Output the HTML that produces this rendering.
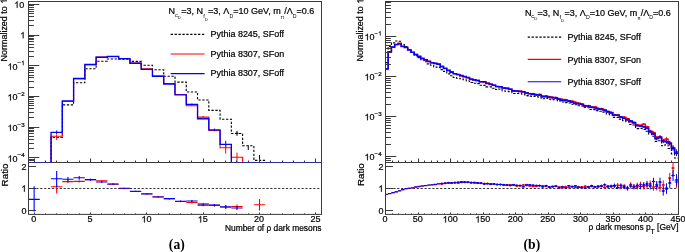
<!DOCTYPE html>
<html><head><meta charset="utf-8"><style>
html,body{margin:0;padding:0;background:#fff;width:685px;height:252px;overflow:hidden}
svg{display:block;will-change:transform}
text{font-family:"Liberation Sans",sans-serif;stroke:#000;stroke-width:0.22px}
.serif{font-family:"Liberation Serif",serif;stroke:none}
.g1{fill:#000;stroke:#000}
.ns{stroke:none}
</style></head><body>
<svg width="685" height="252" viewBox="0 0 685 252" font-family="Liberation Sans, sans-serif" fill="#000"><defs><clipPath id="cl"><rect x="28.5" y="1.5" width="293" height="160.9"/></clipPath><clipPath id="cr"><rect x="385.5" y="1.5" width="293" height="160.9"/></clipPath><clipPath id="clr"><rect x="28.5" y="162.5" width="293" height="51.9"/></clipPath><clipPath id="crr"><rect x="385.5" y="162.5" width="293" height="51.9"/></clipPath></defs>
<g clip-path="url(#cl)" fill="none">
<path d="M28.50,164.00 L39.77,164.00 L39.77,164.00 L51.04,164.00 L51.04,137.50 L62.31,137.50 L62.31,104.90 L73.58,104.90 L73.58,82.80 L84.85,82.80 L84.85,68.80 L96.12,68.80 L96.12,61.20 L107.38,61.20 L107.38,59.00 L118.65,59.00 L118.65,59.20 L129.92,59.20 L129.92,61.40 L141.19,61.40 L141.19,65.20 L152.46,65.20 L152.46,69.80 L163.73,69.80 L163.73,76.30 L175.00,76.30 L175.00,82.10 L186.27,82.10 L186.27,92.00 L197.54,92.00 L197.54,100.00 L208.81,100.00 L208.81,110.40 L220.08,110.40 L220.08,119.20 L231.35,119.20 L231.35,133.50 L242.62,133.50 L242.62,145.70 L253.88,145.70 L253.88,160.40 L265.15,160.40 L265.15,164.00 L276.42,164.00 L276.42,164.00 L287.69,164.00 L287.69,164.00 L298.96,164.00 L298.96,164.00 L310.23,164.00 L310.23,164.00 L321.50,164.00" stroke="#000" stroke-width="1.1" stroke-dasharray="2.3,1.6"/>
<path d="M28.50,164.00 L39.77,164.00 L39.77,164.00 L51.04,164.00 L51.04,136.30 L62.31,136.30 L62.31,101.50 L73.58,101.50 L73.58,79.00 L84.85,79.00 L84.85,64.60 L96.12,64.60 L96.12,57.00 L107.38,57.00 L107.38,56.60 L118.65,56.60 L118.65,58.60 L129.92,58.60 L129.92,63.00 L141.19,63.00 L141.19,68.80 L152.46,68.80 L152.46,76.00 L163.73,76.00 L163.73,83.50 L175.00,83.50 L175.00,94.50 L186.27,94.50 L186.27,105.80 L197.54,105.80 L197.54,117.10 L208.81,117.10 L208.81,130.50 L220.08,130.50 L220.08,147.70 L231.35,147.70 L231.35,157.30 L242.62,157.30 L242.62,164.00 L253.88,164.00 L253.88,164.00 L265.15,164.00 L265.15,164.00 L276.42,164.00 L276.42,164.00 L287.69,164.00 L287.69,164.00 L298.96,164.00 L298.96,164.00 L310.23,164.00 L310.23,164.00 L321.50,164.00" stroke="#ff0000" stroke-width="1.1"/>
<path d="M28.50,164.00 L39.77,164.00 L39.77,164.00 L51.04,164.00 L51.04,132.30 L62.31,132.30 L62.31,100.90 L73.58,100.90 L73.58,78.30 L84.85,78.30 L84.85,64.50 L96.12,64.50 L96.12,57.20 L107.38,57.20 L107.38,56.40 L118.65,56.40 L118.65,58.60 L129.92,58.60 L129.92,63.20 L141.19,63.20 L141.19,69.40 L152.46,69.40 L152.46,76.20 L163.73,76.20 L163.73,84.00 L175.00,84.00 L175.00,94.80 L186.27,94.80 L186.27,104.40 L197.54,104.40 L197.54,118.75 L208.81,118.75 L208.81,129.90 L220.08,129.90 L220.08,144.40 L231.35,144.40 L231.35,164.00 L242.62,164.00 L242.62,164.00 L253.88,164.00 L253.88,164.00 L265.15,164.00 L265.15,164.00 L276.42,164.00 L276.42,164.00 L287.69,164.00 L287.69,164.00 L298.96,164.00 L298.96,164.00 L310.23,164.00 L310.23,164.00 L321.50,164.00" stroke="#0000ff" stroke-width="1.35"/>
<line x1="56.67" y1="130.40" x2="56.67" y2="134.20" stroke="#0000ff" stroke-width="1" />
<line x1="56.67" y1="134.50" x2="56.67" y2="140.00" stroke="#ff0000" stroke-width="1" />
<line x1="225.71" y1="140.80" x2="225.71" y2="147.70" stroke="#0000ff" stroke-width="1" />
<line x1="225.71" y1="144.80" x2="225.71" y2="153.70" stroke="#ff0000" stroke-width="1" />
<line x1="236.98" y1="152.70" x2="236.98" y2="162.00" stroke="#ff0000" stroke-width="1" />
<line x1="236.98" y1="130.80" x2="236.98" y2="135.80" stroke="#000" stroke-width="1" />
<line x1="248.25" y1="145.50" x2="248.25" y2="150.00" stroke="#000" stroke-width="1" />
<line x1="259.52" y1="155.00" x2="259.52" y2="162.00" stroke="#000" stroke-width="1" />
<line x1="214.44" y1="128.50" x2="214.44" y2="131.30" stroke="#0000ff" stroke-width="1" />
<line x1="203.17" y1="116.00" x2="203.17" y2="119.50" stroke="#ff0000" stroke-width="1" />
<line x1="191.90" y1="103.50" x2="191.90" y2="105.50" stroke="#0000ff" stroke-width="1" />
<line x1="235.38" y1="133.30" x2="238.58" y2="133.30" stroke="#000" stroke-width="1" />
</g>
<rect x="28.5" y="1.5" width="293.0" height="161.0" fill="none" stroke="#3a3a3a" stroke-width="1"/>
<line x1="28.50" y1="162.50" x2="33.90" y2="162.50" stroke="#3a3a3a" stroke-width="1.0" />
<line x1="28.50" y1="160.50" x2="33.90" y2="160.50" stroke="#3a3a3a" stroke-width="1.0" />
<line x1="28.50" y1="159.50" x2="33.90" y2="159.50" stroke="#3a3a3a" stroke-width="1.0" />
<line x1="28.50" y1="157.50" x2="39.30" y2="157.50" stroke="#3a3a3a" stroke-width="1.0" />
<line x1="28.50" y1="148.50" x2="33.90" y2="148.50" stroke="#3a3a3a" stroke-width="1.0" />
<line x1="28.50" y1="143.50" x2="33.90" y2="143.50" stroke="#3a3a3a" stroke-width="1.0" />
<line x1="28.50" y1="139.50" x2="33.90" y2="139.50" stroke="#3a3a3a" stroke-width="1.0" />
<line x1="28.50" y1="136.50" x2="33.90" y2="136.50" stroke="#3a3a3a" stroke-width="1.0" />
<line x1="28.50" y1="133.50" x2="33.90" y2="133.50" stroke="#3a3a3a" stroke-width="1.0" />
<line x1="28.50" y1="131.50" x2="33.90" y2="131.50" stroke="#3a3a3a" stroke-width="1.0" />
<line x1="28.50" y1="130.50" x2="33.90" y2="130.50" stroke="#3a3a3a" stroke-width="1.0" />
<line x1="28.50" y1="128.50" x2="33.90" y2="128.50" stroke="#3a3a3a" stroke-width="1.0" />
<line x1="28.50" y1="127.50" x2="39.30" y2="127.50" stroke="#3a3a3a" stroke-width="1.0" />
<line x1="28.50" y1="117.50" x2="33.90" y2="117.50" stroke="#3a3a3a" stroke-width="1.0" />
<line x1="28.50" y1="112.50" x2="33.90" y2="112.50" stroke="#3a3a3a" stroke-width="1.0" />
<line x1="28.50" y1="108.50" x2="33.90" y2="108.50" stroke="#3a3a3a" stroke-width="1.0" />
<line x1="28.50" y1="105.50" x2="33.90" y2="105.50" stroke="#3a3a3a" stroke-width="1.0" />
<line x1="28.50" y1="103.50" x2="33.90" y2="103.50" stroke="#3a3a3a" stroke-width="1.0" />
<line x1="28.50" y1="101.50" x2="33.90" y2="101.50" stroke="#3a3a3a" stroke-width="1.0" />
<line x1="28.50" y1="99.50" x2="33.90" y2="99.50" stroke="#3a3a3a" stroke-width="1.0" />
<line x1="28.50" y1="97.50" x2="33.90" y2="97.50" stroke="#3a3a3a" stroke-width="1.0" />
<line x1="28.50" y1="96.50" x2="39.30" y2="96.50" stroke="#3a3a3a" stroke-width="1.0" />
<line x1="28.50" y1="87.50" x2="33.90" y2="87.50" stroke="#3a3a3a" stroke-width="1.0" />
<line x1="28.50" y1="81.50" x2="33.90" y2="81.50" stroke="#3a3a3a" stroke-width="1.0" />
<line x1="28.50" y1="77.50" x2="33.90" y2="77.50" stroke="#3a3a3a" stroke-width="1.0" />
<line x1="28.50" y1="75.50" x2="33.90" y2="75.50" stroke="#3a3a3a" stroke-width="1.0" />
<line x1="28.50" y1="72.50" x2="33.90" y2="72.50" stroke="#3a3a3a" stroke-width="1.0" />
<line x1="28.50" y1="70.50" x2="33.90" y2="70.50" stroke="#3a3a3a" stroke-width="1.0" />
<line x1="28.50" y1="68.50" x2="33.90" y2="68.50" stroke="#3a3a3a" stroke-width="1.0" />
<line x1="28.50" y1="67.50" x2="33.90" y2="67.50" stroke="#3a3a3a" stroke-width="1.0" />
<line x1="28.50" y1="65.50" x2="39.30" y2="65.50" stroke="#3a3a3a" stroke-width="1.0" />
<line x1="28.50" y1="56.50" x2="33.90" y2="56.50" stroke="#3a3a3a" stroke-width="1.0" />
<line x1="28.50" y1="51.50" x2="33.90" y2="51.50" stroke="#3a3a3a" stroke-width="1.0" />
<line x1="28.50" y1="47.50" x2="33.90" y2="47.50" stroke="#3a3a3a" stroke-width="1.0" />
<line x1="28.50" y1="44.50" x2="33.90" y2="44.50" stroke="#3a3a3a" stroke-width="1.0" />
<line x1="28.50" y1="41.50" x2="33.90" y2="41.50" stroke="#3a3a3a" stroke-width="1.0" />
<line x1="28.50" y1="39.50" x2="33.90" y2="39.50" stroke="#3a3a3a" stroke-width="1.0" />
<line x1="28.50" y1="38.50" x2="33.90" y2="38.50" stroke="#3a3a3a" stroke-width="1.0" />
<line x1="28.50" y1="36.50" x2="33.90" y2="36.50" stroke="#3a3a3a" stroke-width="1.0" />
<line x1="28.50" y1="35.50" x2="39.30" y2="35.50" stroke="#3a3a3a" stroke-width="1.0" />
<line x1="28.50" y1="25.50" x2="33.90" y2="25.50" stroke="#3a3a3a" stroke-width="1.0" />
<line x1="28.50" y1="20.50" x2="33.90" y2="20.50" stroke="#3a3a3a" stroke-width="1.0" />
<line x1="28.50" y1="16.50" x2="33.90" y2="16.50" stroke="#3a3a3a" stroke-width="1.0" />
<line x1="28.50" y1="13.50" x2="33.90" y2="13.50" stroke="#3a3a3a" stroke-width="1.0" />
<line x1="28.50" y1="11.50" x2="33.90" y2="11.50" stroke="#3a3a3a" stroke-width="1.0" />
<line x1="28.50" y1="9.50" x2="33.90" y2="9.50" stroke="#3a3a3a" stroke-width="1.0" />
<line x1="28.50" y1="7.50" x2="33.90" y2="7.50" stroke="#3a3a3a" stroke-width="1.0" />
<line x1="28.50" y1="5.50" x2="33.90" y2="5.50" stroke="#3a3a3a" stroke-width="1.0" />
<line x1="28.50" y1="4.50" x2="39.30" y2="4.50" stroke="#3a3a3a" stroke-width="1.0" />
<line x1="34.50" y1="162.50" x2="34.50" y2="158.50" stroke="#3a3a3a" stroke-width="1.0" />
<line x1="45.50" y1="162.50" x2="45.50" y2="160.50" stroke="#3a3a3a" stroke-width="1.0" />
<line x1="56.50" y1="162.50" x2="56.50" y2="160.50" stroke="#3a3a3a" stroke-width="1.0" />
<line x1="67.50" y1="162.50" x2="67.50" y2="160.50" stroke="#3a3a3a" stroke-width="1.0" />
<line x1="79.50" y1="162.50" x2="79.50" y2="160.50" stroke="#3a3a3a" stroke-width="1.0" />
<line x1="90.50" y1="162.50" x2="90.50" y2="158.50" stroke="#3a3a3a" stroke-width="1.0" />
<line x1="101.50" y1="162.50" x2="101.50" y2="160.50" stroke="#3a3a3a" stroke-width="1.0" />
<line x1="113.50" y1="162.50" x2="113.50" y2="160.50" stroke="#3a3a3a" stroke-width="1.0" />
<line x1="124.50" y1="162.50" x2="124.50" y2="160.50" stroke="#3a3a3a" stroke-width="1.0" />
<line x1="135.50" y1="162.50" x2="135.50" y2="160.50" stroke="#3a3a3a" stroke-width="1.0" />
<line x1="146.50" y1="162.50" x2="146.50" y2="158.50" stroke="#3a3a3a" stroke-width="1.0" />
<line x1="158.50" y1="162.50" x2="158.50" y2="160.50" stroke="#3a3a3a" stroke-width="1.0" />
<line x1="169.50" y1="162.50" x2="169.50" y2="160.50" stroke="#3a3a3a" stroke-width="1.0" />
<line x1="180.50" y1="162.50" x2="180.50" y2="160.50" stroke="#3a3a3a" stroke-width="1.0" />
<line x1="191.50" y1="162.50" x2="191.50" y2="160.50" stroke="#3a3a3a" stroke-width="1.0" />
<line x1="203.50" y1="162.50" x2="203.50" y2="158.50" stroke="#3a3a3a" stroke-width="1.0" />
<line x1="214.50" y1="162.50" x2="214.50" y2="160.50" stroke="#3a3a3a" stroke-width="1.0" />
<line x1="225.50" y1="162.50" x2="225.50" y2="160.50" stroke="#3a3a3a" stroke-width="1.0" />
<line x1="236.50" y1="162.50" x2="236.50" y2="160.50" stroke="#3a3a3a" stroke-width="1.0" />
<line x1="248.50" y1="162.50" x2="248.50" y2="160.50" stroke="#3a3a3a" stroke-width="1.0" />
<line x1="259.50" y1="162.50" x2="259.50" y2="158.50" stroke="#3a3a3a" stroke-width="1.0" />
<line x1="270.50" y1="162.50" x2="270.50" y2="160.50" stroke="#3a3a3a" stroke-width="1.0" />
<line x1="282.50" y1="162.50" x2="282.50" y2="160.50" stroke="#3a3a3a" stroke-width="1.0" />
<line x1="293.50" y1="162.50" x2="293.50" y2="160.50" stroke="#3a3a3a" stroke-width="1.0" />
<line x1="304.50" y1="162.50" x2="304.50" y2="160.50" stroke="#3a3a3a" stroke-width="1.0" />
<line x1="315.50" y1="162.50" x2="315.50" y2="158.50" stroke="#3a3a3a" stroke-width="1.0" />
<path class="g1" d="M763 0L583 0L583 1147Q518 1085 412 1023Q307 961 223 930L223 1104Q374 1175 487 1276Q600 1377 647 1472L763 1472Z" transform="translate(14.19,7.80) scale(0.004395,-0.004395)" stroke-width="50.1"/>
<text x="19.19" y="7.80" font-size="9.0">0</text>
<path class="g1" d="M763 0L583 0L583 1147Q518 1085 412 1023Q307 961 223 930L223 1104Q374 1175 487 1276Q600 1377 647 1472L763 1472Z" transform="translate(20.19,38.35) scale(0.004395,-0.004395)" stroke-width="50.1"/>
<path class="g1" d="M763 0L583 0L583 1147Q518 1085 412 1023Q307 961 223 930L223 1104Q374 1175 487 1276Q600 1377 647 1472L763 1472Z" transform="translate(7.52,69.80) scale(0.004395,-0.004395)" stroke-width="50.1"/>
<text x="12.53" y="69.80" font-size="9.0">0</text>
<text x="17.53" y="65.20" font-size="6.2">&#8722;</text>
<path class="g1" d="M763 0L583 0L583 1147Q518 1085 412 1023Q307 961 223 930L223 1104Q374 1175 487 1276Q600 1377 647 1472L763 1472Z" transform="translate(21.15,65.20) scale(0.003027,-0.003027)" stroke-width="72.7"/>
<path class="g1" d="M763 0L583 0L583 1147Q518 1085 412 1023Q307 961 223 930L223 1104Q374 1175 487 1276Q600 1377 647 1472L763 1472Z" transform="translate(7.52,100.45) scale(0.004395,-0.004395)" stroke-width="50.1"/>
<text x="12.53" y="100.45" font-size="9.0">0</text>
<text x="17.53" y="95.85" font-size="6.2">&#8722;2</text>
<path class="g1" d="M763 0L583 0L583 1147Q518 1085 412 1023Q307 961 223 930L223 1104Q374 1175 487 1276Q600 1377 647 1472L763 1472Z" transform="translate(7.52,131.10) scale(0.004395,-0.004395)" stroke-width="50.1"/>
<text x="12.53" y="131.10" font-size="9.0">0</text>
<text x="17.53" y="126.50" font-size="6.2">&#8722;3</text>
<path class="g1" d="M763 0L583 0L583 1147Q518 1085 412 1023Q307 961 223 930L223 1104Q374 1175 487 1276Q600 1377 647 1472L763 1472Z" transform="translate(7.52,161.75) scale(0.004395,-0.004395)" stroke-width="50.1"/>
<text x="12.53" y="161.75" font-size="9.0">0</text>
<text x="17.53" y="157.15" font-size="6.2">&#8722;4</text>
<g transform="translate(6.9,-1.2) rotate(-90)">
<text x="-7.46" y="0" font-size="8.95" text-anchor="end">Normalized to</text>
<path class="g1" d="M763 0L583 0L583 1147Q518 1085 412 1023Q307 961 223 930L223 1104Q374 1175 487 1276Q600 1377 647 1472L763 1472Z" transform="translate(-4.98,0) scale(0.004370,-0.004370)" stroke-width="50.3"/>
</g>
<rect x="28.5" y="162.5" width="293.0" height="51.900000000000006" fill="none" stroke="#3a3a3a" stroke-width="1"/>
<line x1="29.00" y1="162.50" x2="51.04" y2="162.50" stroke="#2e2e8c" stroke-width="1.0" />
<line x1="231.35" y1="162.50" x2="321.00" y2="162.50" stroke="#2e2e8c" stroke-width="1.0" />
<line x1="28.50" y1="188.50" x2="321.50" y2="188.50" stroke="#333" stroke-width="1.0" stroke-dasharray="2.2,1.7"/>
<line x1="28.50" y1="210.50" x2="36.00" y2="210.50" stroke="#3a3a3a" stroke-width="1.0" />
<text x="21.39" y="213.60" font-size="9.0">0</text>
<line x1="28.50" y1="188.50" x2="36.00" y2="188.50" stroke="#3a3a3a" stroke-width="1.0" />
<path class="g1" d="M763 0L583 0L583 1147Q518 1085 412 1023Q307 961 223 930L223 1104Q374 1175 487 1276Q600 1377 647 1472L763 1472Z" transform="translate(21.39,191.70) scale(0.004395,-0.004395)" stroke-width="50.1"/>
<line x1="28.50" y1="166.50" x2="36.00" y2="166.50" stroke="#3a3a3a" stroke-width="1.0" />
<text x="21.39" y="169.80" font-size="9.0">2</text>
<line x1="34.50" y1="214.40" x2="34.50" y2="212.50" stroke="#3a3a3a" stroke-width="1.0" />
<line x1="45.50" y1="214.40" x2="45.50" y2="213.40" stroke="#3a3a3a" stroke-width="1.0" />
<line x1="56.50" y1="214.40" x2="56.50" y2="213.40" stroke="#3a3a3a" stroke-width="1.0" />
<line x1="67.50" y1="214.40" x2="67.50" y2="213.40" stroke="#3a3a3a" stroke-width="1.0" />
<line x1="79.50" y1="214.40" x2="79.50" y2="213.40" stroke="#3a3a3a" stroke-width="1.0" />
<line x1="90.50" y1="214.40" x2="90.50" y2="212.50" stroke="#3a3a3a" stroke-width="1.0" />
<line x1="101.50" y1="214.40" x2="101.50" y2="213.40" stroke="#3a3a3a" stroke-width="1.0" />
<line x1="113.50" y1="214.40" x2="113.50" y2="213.40" stroke="#3a3a3a" stroke-width="1.0" />
<line x1="124.50" y1="214.40" x2="124.50" y2="213.40" stroke="#3a3a3a" stroke-width="1.0" />
<line x1="135.50" y1="214.40" x2="135.50" y2="213.40" stroke="#3a3a3a" stroke-width="1.0" />
<line x1="146.50" y1="214.40" x2="146.50" y2="212.50" stroke="#3a3a3a" stroke-width="1.0" />
<line x1="158.50" y1="214.40" x2="158.50" y2="213.40" stroke="#3a3a3a" stroke-width="1.0" />
<line x1="169.50" y1="214.40" x2="169.50" y2="213.40" stroke="#3a3a3a" stroke-width="1.0" />
<line x1="180.50" y1="214.40" x2="180.50" y2="213.40" stroke="#3a3a3a" stroke-width="1.0" />
<line x1="191.50" y1="214.40" x2="191.50" y2="213.40" stroke="#3a3a3a" stroke-width="1.0" />
<line x1="203.50" y1="214.40" x2="203.50" y2="212.50" stroke="#3a3a3a" stroke-width="1.0" />
<line x1="214.50" y1="214.40" x2="214.50" y2="213.40" stroke="#3a3a3a" stroke-width="1.0" />
<line x1="225.50" y1="214.40" x2="225.50" y2="213.40" stroke="#3a3a3a" stroke-width="1.0" />
<line x1="236.50" y1="214.40" x2="236.50" y2="213.40" stroke="#3a3a3a" stroke-width="1.0" />
<line x1="248.50" y1="214.40" x2="248.50" y2="213.40" stroke="#3a3a3a" stroke-width="1.0" />
<line x1="259.50" y1="214.40" x2="259.50" y2="212.50" stroke="#3a3a3a" stroke-width="1.0" />
<line x1="270.50" y1="214.40" x2="270.50" y2="213.40" stroke="#3a3a3a" stroke-width="1.0" />
<line x1="282.50" y1="214.40" x2="282.50" y2="213.40" stroke="#3a3a3a" stroke-width="1.0" />
<line x1="293.50" y1="214.40" x2="293.50" y2="213.40" stroke="#3a3a3a" stroke-width="1.0" />
<line x1="304.50" y1="214.40" x2="304.50" y2="213.40" stroke="#3a3a3a" stroke-width="1.0" />
<line x1="315.50" y1="214.40" x2="315.50" y2="212.50" stroke="#3a3a3a" stroke-width="1.0" />
<text x="31.23" y="222.40" font-size="9.0">0</text>
<text x="87.58" y="222.40" font-size="9.0">5</text>
<path class="g1" d="M763 0L583 0L583 1147Q518 1085 412 1023Q307 961 223 930L223 1104Q374 1175 487 1276Q600 1377 647 1472L763 1472Z" transform="translate(141.42,222.40) scale(0.004395,-0.004395)" stroke-width="50.1"/>
<text x="146.43" y="222.40" font-size="9.0">0</text>
<path class="g1" d="M763 0L583 0L583 1147Q518 1085 412 1023Q307 961 223 930L223 1104Q374 1175 487 1276Q600 1377 647 1472L763 1472Z" transform="translate(197.77,222.40) scale(0.004395,-0.004395)" stroke-width="50.1"/>
<text x="202.77" y="222.40" font-size="9.0">5</text>
<text x="254.11" y="222.40" font-size="9.0">20</text>
<text x="310.46" y="222.40" font-size="9.0">25</text>
<text x="321.50" y="231.20" font-size="8.4" text-anchor="end" >Number of &#961; dark mesons</text>
<text x="0.00" y="0.00" font-size="9.8" text-anchor="end" transform="translate(7.8,163.5) rotate(-90)">Ratio</text>
<g clip-path="url(#clr)">
<line x1="51.04" y1="186.70" x2="62.31" y2="186.70" stroke="#ff0000" stroke-width="1.1" />
<line x1="56.67" y1="185.00" x2="56.67" y2="193.40" stroke="#ff0000" stroke-width="1.1" />
<line x1="62.31" y1="181.60" x2="73.58" y2="181.60" stroke="#ff0000" stroke-width="1.1" />
<line x1="67.94" y1="180.20" x2="67.94" y2="183.00" stroke="#ff0000" stroke-width="1.1" />
<line x1="73.58" y1="181.40" x2="84.85" y2="181.40" stroke="#ff0000" stroke-width="1.1" />
<line x1="79.21" y1="180.40" x2="79.21" y2="182.40" stroke="#ff0000" stroke-width="1.1" />
<line x1="84.85" y1="179.80" x2="96.12" y2="179.80" stroke="#ff0000" stroke-width="1.1" />
<line x1="90.48" y1="179.00" x2="90.48" y2="180.60" stroke="#ff0000" stroke-width="1.1" />
<line x1="96.12" y1="180.80" x2="107.38" y2="180.80" stroke="#ff0000" stroke-width="1.1" />
<line x1="101.75" y1="180.00" x2="101.75" y2="181.60" stroke="#ff0000" stroke-width="1.1" />
<line x1="107.38" y1="184.20" x2="118.65" y2="184.20" stroke="#ff0000" stroke-width="1.1" />
<line x1="113.02" y1="183.50" x2="113.02" y2="184.90" stroke="#ff0000" stroke-width="1.1" />
<line x1="118.65" y1="188.50" x2="129.92" y2="188.50" stroke="#ff0000" stroke-width="1.1" />
<line x1="124.29" y1="188.00" x2="124.29" y2="189.00" stroke="#ff0000" stroke-width="1.1" />
<line x1="129.92" y1="191.50" x2="141.19" y2="191.50" stroke="#ff0000" stroke-width="1.1" />
<line x1="135.56" y1="191.00" x2="135.56" y2="192.00" stroke="#ff0000" stroke-width="1.1" />
<line x1="141.19" y1="193.80" x2="152.46" y2="193.80" stroke="#ff0000" stroke-width="1.1" />
<line x1="146.83" y1="193.30" x2="146.83" y2="194.30" stroke="#ff0000" stroke-width="1.1" />
<line x1="152.46" y1="196.80" x2="163.73" y2="196.80" stroke="#ff0000" stroke-width="1.1" />
<line x1="158.10" y1="196.30" x2="158.10" y2="197.30" stroke="#ff0000" stroke-width="1.1" />
<line x1="163.73" y1="198.80" x2="175.00" y2="198.80" stroke="#ff0000" stroke-width="1.1" />
<line x1="169.37" y1="198.20" x2="169.37" y2="199.40" stroke="#ff0000" stroke-width="1.1" />
<line x1="175.00" y1="201.50" x2="186.27" y2="201.50" stroke="#ff0000" stroke-width="1.1" />
<line x1="180.63" y1="200.80" x2="180.63" y2="202.20" stroke="#ff0000" stroke-width="1.1" />
<line x1="186.27" y1="202.50" x2="197.54" y2="202.50" stroke="#ff0000" stroke-width="1.1" />
<line x1="191.90" y1="201.50" x2="191.90" y2="203.50" stroke="#ff0000" stroke-width="1.1" />
<line x1="197.54" y1="203.90" x2="208.81" y2="203.90" stroke="#ff0000" stroke-width="1.1" />
<line x1="203.17" y1="202.80" x2="203.17" y2="205.00" stroke="#ff0000" stroke-width="1.1" />
<line x1="208.81" y1="205.30" x2="220.08" y2="205.30" stroke="#ff0000" stroke-width="1.1" />
<line x1="214.44" y1="204.00" x2="214.44" y2="206.60" stroke="#ff0000" stroke-width="1.1" />
<line x1="220.08" y1="207.30" x2="231.35" y2="207.30" stroke="#ff0000" stroke-width="1.1" />
<line x1="225.71" y1="205.50" x2="225.71" y2="209.00" stroke="#ff0000" stroke-width="1.1" />
<line x1="231.35" y1="206.50" x2="242.62" y2="206.50" stroke="#ff0000" stroke-width="1.1" />
<line x1="236.98" y1="204.50" x2="236.98" y2="208.50" stroke="#ff0000" stroke-width="1.1" />
<line x1="254.12" y1="204.70" x2="264.92" y2="204.70" stroke="#ff0000" stroke-width="1.1" />
<line x1="259.52" y1="199.00" x2="259.52" y2="210.60" stroke="#ff0000" stroke-width="1.1" />
<line x1="28.50" y1="199.40" x2="39.77" y2="199.40" stroke="#0000ff" stroke-width="1.1" />
<line x1="34.13" y1="186.30" x2="34.13" y2="211.60" stroke="#0000ff" stroke-width="1.1" />
<line x1="51.04" y1="178.80" x2="62.31" y2="178.80" stroke="#0000ff" stroke-width="1.1" />
<line x1="56.67" y1="171.10" x2="56.67" y2="186.90" stroke="#0000ff" stroke-width="1.1" />
<line x1="62.31" y1="179.20" x2="73.58" y2="179.20" stroke="#0000ff" stroke-width="1.1" />
<line x1="67.94" y1="177.00" x2="67.94" y2="181.50" stroke="#0000ff" stroke-width="1.1" />
<line x1="73.58" y1="177.80" x2="84.85" y2="177.80" stroke="#0000ff" stroke-width="1.1" />
<line x1="79.21" y1="176.00" x2="79.21" y2="179.80" stroke="#0000ff" stroke-width="1.1" />
<line x1="84.85" y1="179.60" x2="96.12" y2="179.60" stroke="#0000ff" stroke-width="1.1" />
<line x1="90.48" y1="178.50" x2="90.48" y2="180.70" stroke="#0000ff" stroke-width="1.1" />
<line x1="96.12" y1="182.00" x2="107.38" y2="182.00" stroke="#0000ff" stroke-width="1.1" />
<line x1="101.75" y1="181.00" x2="101.75" y2="183.00" stroke="#0000ff" stroke-width="1.1" />
<line x1="107.38" y1="184.00" x2="118.65" y2="184.00" stroke="#0000ff" stroke-width="1.1" />
<line x1="113.02" y1="183.30" x2="113.02" y2="184.70" stroke="#0000ff" stroke-width="1.1" />
<line x1="118.65" y1="188.30" x2="129.92" y2="188.30" stroke="#0000ff" stroke-width="1.1" />
<line x1="124.29" y1="187.80" x2="124.29" y2="188.80" stroke="#0000ff" stroke-width="1.1" />
<line x1="129.92" y1="191.30" x2="141.19" y2="191.30" stroke="#0000ff" stroke-width="1.1" />
<line x1="135.56" y1="190.80" x2="135.56" y2="191.80" stroke="#0000ff" stroke-width="1.1" />
<line x1="141.19" y1="194.00" x2="152.46" y2="194.00" stroke="#0000ff" stroke-width="1.1" />
<line x1="146.83" y1="193.50" x2="146.83" y2="194.50" stroke="#0000ff" stroke-width="1.1" />
<line x1="152.46" y1="197.00" x2="163.73" y2="197.00" stroke="#0000ff" stroke-width="1.1" />
<line x1="158.10" y1="196.50" x2="158.10" y2="197.50" stroke="#0000ff" stroke-width="1.1" />
<line x1="163.73" y1="198.60" x2="175.00" y2="198.60" stroke="#0000ff" stroke-width="1.1" />
<line x1="169.37" y1="198.00" x2="169.37" y2="199.20" stroke="#0000ff" stroke-width="1.1" />
<line x1="175.00" y1="201.30" x2="186.27" y2="201.30" stroke="#0000ff" stroke-width="1.1" />
<line x1="180.63" y1="200.60" x2="180.63" y2="202.00" stroke="#0000ff" stroke-width="1.1" />
<line x1="186.27" y1="201.00" x2="197.54" y2="201.00" stroke="#0000ff" stroke-width="1.1" />
<line x1="191.90" y1="200.00" x2="191.90" y2="202.00" stroke="#0000ff" stroke-width="1.1" />
<line x1="197.54" y1="205.10" x2="208.81" y2="205.10" stroke="#0000ff" stroke-width="1.1" />
<line x1="203.17" y1="204.00" x2="203.17" y2="206.20" stroke="#0000ff" stroke-width="1.1" />
<line x1="208.81" y1="205.10" x2="220.08" y2="205.10" stroke="#0000ff" stroke-width="1.1" />
<line x1="214.44" y1="204.00" x2="214.44" y2="206.20" stroke="#0000ff" stroke-width="1.1" />
<line x1="220.08" y1="206.70" x2="231.35" y2="206.70" stroke="#0000ff" stroke-width="1.1" />
<line x1="225.71" y1="205.00" x2="225.71" y2="208.40" stroke="#0000ff" stroke-width="1.1" />
<line x1="231.35" y1="208.00" x2="242.62" y2="208.00" stroke="#0000ff" stroke-width="1.1" />
<line x1="236.98" y1="206.00" x2="236.98" y2="210.00" stroke="#0000ff" stroke-width="1.1" />
</g>
<text x="168.60" y="14.40" font-size="9.0" text-anchor="start" >N<tspan font-size="5.8" dy="2.5" dx="-0.2" class="ns">c</tspan><tspan font-size="4.3" dy="1.8" class="ns">D</tspan><tspan dy="-4.3" dx="0.3">=3, N</tspan><tspan font-size="5.8" dy="3.6" dx="0.2" class="ns">f</tspan><tspan font-size="4.3" dy="2.9" dx="-0.1" class="ns">D</tspan><tspan dy="-6.5" dx="0.3">=3, &#923;</tspan><tspan font-size="5.2" dy="3.1" dx="0.2" class="ns">D</tspan><tspan dy="-3.1">=10 GeV, m</tspan><tspan font-size="5.0" dy="4.2" class="ns">&#960;</tspan><tspan dy="-4.2">/&#923;</tspan><tspan font-size="5.2" dy="3.1" dx="0.1" class="ns">D</tspan><tspan dy="-3.1">=0.6</tspan></text>
<line x1="170.70" y1="34.30" x2="204.60" y2="34.30" stroke="#000" stroke-width="1.2" stroke-dasharray="2.3,1.6"/>
<text x="210.60" y="37.10" font-size="8.95" text-anchor="start" >Pythia 8245, SFoff</text>
<line x1="170.70" y1="53.95" x2="204.60" y2="53.95" stroke="#ff0000" stroke-width="1.1" />
<text x="210.60" y="56.75" font-size="8.95" text-anchor="start" >Pythia 8307, SFon</text>
<line x1="170.70" y1="73.60" x2="204.60" y2="73.60" stroke="#0000ff" stroke-width="1.1" />
<text x="210.60" y="76.40" font-size="8.95" text-anchor="start" >Pythia 8307, SFoff</text>
<g clip-path="url(#cr)" fill="none">
<path d="M385.50,62.60 L388.16,62.60 L388.16,46.65 L391.41,46.65 L391.41,42.87 L394.67,42.87 L394.67,41.03 L397.92,41.03 L397.92,41.32 L401.18,41.32 L401.18,44.43 L404.43,44.43 L404.43,46.55 L407.69,46.55 L407.69,49.59 L410.94,49.59 L410.94,52.55 L414.20,52.55 L414.20,55.42 L417.46,55.42 L417.46,57.58 L420.71,57.58 L420.71,59.70 L423.97,59.70 L423.97,61.82 L427.22,61.82 L427.22,63.87 L430.48,63.87 L430.48,65.32 L433.73,65.32 L433.73,67.00 L436.99,67.00 L436.99,67.44 L440.24,67.44 L440.24,69.67 L443.50,69.67 L443.50,71.39 L446.76,71.39 L446.76,73.85 L450.01,73.85 L450.01,75.72 L453.27,75.72 L453.27,77.49 L456.52,77.49 L456.52,78.23 L459.78,78.23 L459.78,78.75 L463.03,78.75 L463.03,79.82 L466.29,79.82 L466.29,80.94 L469.54,80.94 L469.54,82.57 L472.80,82.57 L472.80,83.20 L476.06,83.20 L476.06,83.60 L479.31,83.60 L479.31,85.20 L482.57,85.20 L482.57,85.42 L485.82,85.42 L485.82,86.85 L489.08,86.85 L489.08,86.86 L492.33,86.86 L492.33,88.20 L495.59,88.20 L495.59,89.54 L498.84,89.54 L498.84,89.03 L502.10,89.03 L502.10,90.98 L505.36,90.98 L505.36,91.27 L508.61,91.27 L508.61,91.58 L511.87,91.58 L511.87,93.54 L515.12,93.54 L515.12,93.50 L518.38,93.50 L518.38,93.39 L521.63,93.39 L521.63,94.20 L524.89,94.20 L524.89,95.58 L528.14,95.58 L528.14,96.16 L531.40,96.16 L531.40,96.34 L534.66,96.34 L534.66,96.50 L537.91,96.50 L537.91,97.14 L541.17,97.14 L541.17,98.70 L544.42,98.70 L544.42,98.17 L547.68,98.17 L547.68,99.25 L550.93,99.25 L550.93,99.60 L554.19,99.60 L554.19,99.74 L557.44,99.74 L557.44,100.92 L560.70,100.92 L560.70,102.07 L563.96,102.07 L563.96,102.62 L567.21,102.62 L567.21,103.01 L570.47,103.01 L570.47,104.21 L573.72,104.21 L573.72,104.81 L576.98,104.81 L576.98,105.77 L580.23,105.77 L580.23,105.85 L583.49,105.85 L583.49,107.46 L586.74,107.46 L586.74,107.75 L590.00,107.75 L590.00,109.50 L593.26,109.50 L593.26,109.59 L596.51,109.59 L596.51,110.62 L599.77,110.62 L599.77,111.24 L603.02,111.24 L603.02,112.28 L606.28,112.28 L606.28,113.90 L609.53,113.90 L609.53,115.00 L612.79,115.00 L612.79,117.34 L616.04,117.34 L616.04,117.52 L619.30,117.52 L619.30,119.12 L622.56,119.12 L622.56,120.67 L625.81,120.67 L625.81,121.67 L629.07,121.67 L629.07,124.45 L632.32,124.45 L632.32,125.04 L635.58,125.04 L635.58,128.59 L638.83,128.59 L638.83,128.55 L642.09,128.55 L642.09,129.45 L645.34,129.45 L645.34,131.30 L648.60,131.30 L648.60,133.87 L651.86,133.87 L651.86,136.29 L655.11,136.29 L655.11,141.42 L658.37,141.42 L658.37,140.70 L661.62,140.70 L661.62,145.82 L664.88,145.82 L664.88,144.73 L668.13,144.73 L668.13,148.46 L671.39,148.46 L671.39,153.98 L674.64,153.98 L674.64,158.07 L678.50,158.07" stroke="#000" stroke-width="1.1" stroke-dasharray="2.3,1.6"/>
<path d="M385.50,69.20 L388.16,69.20 L388.16,52.20 L391.41,52.20 L391.41,47.40 L394.67,47.40 L394.67,44.62 L397.92,44.62 L397.92,43.19 L401.18,43.19 L401.18,46.61 L404.43,46.61 L404.43,47.40 L407.69,47.40 L407.69,49.62 L410.94,49.62 L410.94,52.36 L414.20,52.36 L414.20,54.43 L417.46,54.43 L417.46,56.26 L420.71,56.26 L420.71,58.83 L423.97,58.83 L423.97,59.95 L427.22,59.95 L427.22,61.32 L430.48,61.32 L430.48,62.75 L433.73,62.75 L433.73,63.26 L436.99,63.26 L436.99,64.04 L440.24,64.04 L440.24,66.46 L443.50,66.46 L443.50,68.59 L446.76,68.59 L446.76,70.30 L450.01,70.30 L450.01,71.79 L453.27,71.79 L453.27,73.67 L456.52,73.67 L456.52,74.61 L459.78,74.61 L459.78,76.14 L463.03,76.14 L463.03,76.79 L466.29,76.79 L466.29,77.81 L469.54,77.81 L469.54,79.55 L472.80,79.55 L472.80,79.80 L476.06,79.80 L476.06,80.48 L479.31,80.48 L479.31,81.92 L482.57,81.92 L482.57,81.96 L485.82,81.96 L485.82,83.05 L489.08,83.05 L489.08,84.63 L492.33,84.63 L492.33,85.13 L495.59,85.13 L495.59,86.59 L498.84,86.59 L498.84,86.79 L502.10,86.79 L502.10,87.94 L505.36,87.94 L505.36,87.98 L508.61,87.98 L508.61,89.24 L511.87,89.24 L511.87,91.24 L515.12,91.24 L515.12,90.85 L518.38,90.85 L518.38,91.05 L521.63,91.05 L521.63,91.97 L524.89,91.97 L524.89,92.99 L528.14,92.99 L528.14,93.67 L531.40,93.67 L531.40,93.78 L534.66,93.78 L534.66,94.70 L537.91,94.70 L537.91,94.42 L541.17,94.42 L541.17,96.40 L544.42,96.40 L544.42,96.48 L547.68,96.48 L547.68,96.64 L550.93,96.64 L550.93,97.58 L554.19,97.58 L554.19,97.59 L557.44,97.59 L557.44,98.83 L560.70,98.83 L560.70,99.43 L563.96,99.43 L563.96,99.82 L567.21,99.82 L567.21,100.67 L570.47,100.67 L570.47,101.19 L573.72,101.19 L573.72,102.35 L576.98,102.35 L576.98,103.31 L580.23,103.31 L580.23,104.36 L583.49,104.36 L583.49,106.26 L586.74,106.26 L586.74,105.68 L590.00,105.68 L590.00,107.30 L593.26,107.30 L593.26,106.91 L596.51,106.91 L596.51,108.55 L599.77,108.55 L599.77,108.68 L603.02,108.68 L603.02,109.75 L606.28,109.75 L606.28,111.39 L609.53,111.39 L609.53,112.54 L612.79,112.54 L612.79,114.76 L616.04,114.76 L616.04,115.21 L619.30,115.21 L619.30,116.95 L622.56,116.95 L622.56,117.27 L625.81,117.27 L625.81,118.74 L629.07,118.74 L629.07,121.57 L632.32,121.57 L632.32,123.16 L635.58,123.16 L635.58,124.95 L638.83,124.95 L638.83,125.53 L642.09,125.53 L642.09,124.30 L645.34,124.30 L645.34,126.81 L648.60,126.81 L648.60,130.90 L651.86,130.90 L651.86,132.60 L655.11,132.60 L655.11,137.33 L658.37,137.33 L658.37,136.84 L661.62,136.84 L661.62,140.46 L664.88,140.46 L664.88,139.12 L668.13,139.12 L668.13,143.16 L671.39,143.16 L671.39,147.63 L674.64,147.63 L674.64,151.88 L678.50,151.88" stroke="#ff0000" stroke-width="1.4"/>
<path d="M385.50,68.70 L388.16,68.70 L388.16,51.70 L391.41,51.70 L391.41,46.90 L394.67,46.90 L394.67,44.40 L397.92,44.40 L397.92,43.93 L401.18,43.93 L401.18,46.16 L404.43,46.16 L404.43,47.50 L407.69,47.50 L407.69,50.03 L410.94,50.03 L410.94,52.34 L414.20,52.34 L414.20,54.41 L417.46,54.41 L417.46,56.44 L420.71,56.44 L420.71,58.16 L423.97,58.16 L423.97,59.73 L427.22,59.73 L427.22,61.53 L430.48,61.53 L430.48,62.87 L433.73,62.87 L433.73,63.57 L436.99,63.57 L436.99,64.21 L440.24,64.21 L440.24,66.38 L443.50,66.38 L443.50,68.16 L446.76,68.16 L446.76,70.45 L450.01,70.45 L450.01,72.14 L453.27,72.14 L453.27,73.70 L456.52,73.70 L456.52,74.62 L459.78,74.62 L459.78,75.56 L463.03,75.56 L463.03,76.47 L466.29,76.47 L466.29,77.47 L469.54,77.47 L469.54,79.03 L472.80,79.03 L472.80,79.98 L476.06,79.98 L476.06,80.56 L479.31,80.56 L479.31,81.73 L482.57,81.73 L482.57,81.78 L485.82,81.78 L485.82,83.61 L489.08,83.61 L489.08,84.00 L492.33,84.00 L492.33,85.22 L495.59,85.22 L495.59,86.50 L498.84,86.50 L498.84,86.73 L502.10,86.73 L502.10,87.98 L505.36,87.98 L505.36,88.49 L508.61,88.49 L508.61,89.14 L511.87,89.14 L511.87,90.87 L515.12,90.87 L515.12,91.00 L518.38,91.00 L518.38,91.45 L521.63,91.45 L521.63,91.76 L524.89,91.76 L524.89,93.09 L528.14,93.09 L528.14,93.67 L531.40,93.67 L531.40,94.32 L534.66,94.32 L534.66,94.66 L537.91,94.66 L537.91,95.12 L541.17,95.12 L541.17,96.52 L544.42,96.52 L544.42,96.26 L547.68,96.26 L547.68,97.29 L550.93,97.29 L550.93,97.50 L554.19,97.50 L554.19,98.07 L557.44,98.07 L557.44,98.90 L560.70,98.90 L560.70,100.23 L563.96,100.23 L563.96,100.38 L567.21,100.38 L567.21,100.94 L570.47,100.94 L570.47,102.08 L573.72,102.08 L573.72,103.13 L576.98,103.13 L576.98,103.66 L580.23,103.66 L580.23,104.15 L583.49,104.15 L583.49,105.74 L586.74,105.74 L586.74,106.03 L590.00,106.03 L590.00,107.25 L593.26,107.25 L593.26,107.73 L596.51,107.73 L596.51,108.75 L599.77,108.75 L599.77,109.34 L603.02,109.34 L603.02,110.50 L606.28,110.50 L606.28,111.64 L609.53,111.64 L609.53,112.69 L612.79,112.69 L612.79,115.18 L616.04,115.18 L616.04,115.21 L619.30,115.21 L619.30,116.89 L622.56,116.89 L622.56,118.21 L625.81,118.21 L625.81,119.66 L629.07,119.66 L629.07,121.07 L632.32,121.07 L632.32,122.62 L635.58,122.62 L635.58,125.42 L638.83,125.42 L638.83,126.11 L642.09,126.11 L642.09,126.83 L645.34,126.83 L645.34,128.13 L648.60,128.13 L648.60,131.63 L651.86,131.63 L651.86,133.78 L655.11,133.78 L655.11,138.55 L658.37,138.55 L658.37,137.18 L661.62,137.18 L661.62,141.34 L664.88,141.34 L664.88,141.70 L668.13,141.70 L668.13,143.27 L671.39,143.27 L671.39,148.21 L674.64,148.21 L674.64,153.28 L678.50,153.28" stroke="#0000ff" stroke-width="1.5"/>
<ellipse cx="533.03" cy="93.78" rx="1.2" ry="1.0" fill="#ff0000" stroke="none"/>
<ellipse cx="533.03" cy="94.32" rx="1.2" ry="1.0" fill="#0000ff" stroke="none"/>
<ellipse cx="536.28" cy="94.70" rx="1.2" ry="1.0" fill="#ff0000" stroke="none"/>
<ellipse cx="536.28" cy="94.66" rx="1.2" ry="1.0" fill="#0000ff" stroke="none"/>
<ellipse cx="539.54" cy="94.42" rx="1.2" ry="1.0" fill="#ff0000" stroke="none"/>
<ellipse cx="539.54" cy="95.12" rx="1.2" ry="1.0" fill="#0000ff" stroke="none"/>
<ellipse cx="542.79" cy="96.40" rx="1.2" ry="1.0" fill="#ff0000" stroke="none"/>
<ellipse cx="542.79" cy="96.52" rx="1.2" ry="1.0" fill="#0000ff" stroke="none"/>
<ellipse cx="546.05" cy="96.48" rx="1.2" ry="1.0" fill="#ff0000" stroke="none"/>
<ellipse cx="546.05" cy="96.26" rx="1.2" ry="1.0" fill="#0000ff" stroke="none"/>
<ellipse cx="549.31" cy="96.64" rx="1.2" ry="1.0" fill="#ff0000" stroke="none"/>
<ellipse cx="549.31" cy="97.29" rx="1.2" ry="1.0" fill="#0000ff" stroke="none"/>
<ellipse cx="552.56" cy="97.58" rx="1.2" ry="1.0" fill="#ff0000" stroke="none"/>
<ellipse cx="552.56" cy="97.50" rx="1.2" ry="1.0" fill="#0000ff" stroke="none"/>
<ellipse cx="555.82" cy="97.59" rx="1.2" ry="1.0" fill="#ff0000" stroke="none"/>
<ellipse cx="555.82" cy="98.07" rx="1.2" ry="1.0" fill="#0000ff" stroke="none"/>
<ellipse cx="559.07" cy="98.83" rx="1.2" ry="1.0" fill="#ff0000" stroke="none"/>
<ellipse cx="559.07" cy="98.90" rx="1.2" ry="1.0" fill="#0000ff" stroke="none"/>
<ellipse cx="562.33" cy="99.43" rx="1.2" ry="1.0" fill="#ff0000" stroke="none"/>
<ellipse cx="562.33" cy="100.23" rx="1.2" ry="1.0" fill="#0000ff" stroke="none"/>
<ellipse cx="565.58" cy="99.82" rx="1.2" ry="1.0" fill="#ff0000" stroke="none"/>
<ellipse cx="565.58" cy="100.38" rx="1.2" ry="1.0" fill="#0000ff" stroke="none"/>
<ellipse cx="568.84" cy="100.67" rx="1.2" ry="1.0" fill="#ff0000" stroke="none"/>
<ellipse cx="568.84" cy="100.94" rx="1.2" ry="1.0" fill="#0000ff" stroke="none"/>
<ellipse cx="572.09" cy="101.19" rx="1.2" ry="1.0" fill="#ff0000" stroke="none"/>
<ellipse cx="572.09" cy="102.08" rx="1.2" ry="1.0" fill="#0000ff" stroke="none"/>
<ellipse cx="575.35" cy="102.35" rx="1.2" ry="1.0" fill="#ff0000" stroke="none"/>
<ellipse cx="575.35" cy="103.13" rx="1.2" ry="1.0" fill="#0000ff" stroke="none"/>
<ellipse cx="578.61" cy="103.31" rx="1.2" ry="1.0" fill="#ff0000" stroke="none"/>
<ellipse cx="578.61" cy="103.66" rx="1.2" ry="1.0" fill="#0000ff" stroke="none"/>
<ellipse cx="581.86" cy="104.36" rx="1.2" ry="1.0" fill="#ff0000" stroke="none"/>
<ellipse cx="581.86" cy="104.15" rx="1.2" ry="1.0" fill="#0000ff" stroke="none"/>
<ellipse cx="585.12" cy="106.26" rx="1.2" ry="1.0" fill="#ff0000" stroke="none"/>
<ellipse cx="585.12" cy="105.74" rx="1.2" ry="1.0" fill="#0000ff" stroke="none"/>
<ellipse cx="588.37" cy="105.68" rx="1.2" ry="1.0" fill="#ff0000" stroke="none"/>
<ellipse cx="588.37" cy="106.03" rx="1.2" ry="1.0" fill="#0000ff" stroke="none"/>
<ellipse cx="591.63" cy="107.30" rx="1.2" ry="1.0" fill="#ff0000" stroke="none"/>
<ellipse cx="591.63" cy="107.25" rx="1.2" ry="1.0" fill="#0000ff" stroke="none"/>
<ellipse cx="594.88" cy="106.91" rx="1.2" ry="1.0" fill="#ff0000" stroke="none"/>
<ellipse cx="594.88" cy="107.73" rx="1.2" ry="1.0" fill="#0000ff" stroke="none"/>
<ellipse cx="598.14" cy="108.55" rx="1.2" ry="1.0" fill="#ff0000" stroke="none"/>
<ellipse cx="598.14" cy="108.75" rx="1.2" ry="1.0" fill="#0000ff" stroke="none"/>
<ellipse cx="601.39" cy="108.68" rx="1.2" ry="1.0" fill="#ff0000" stroke="none"/>
<ellipse cx="601.39" cy="109.34" rx="1.2" ry="1.0" fill="#0000ff" stroke="none"/>
<ellipse cx="604.65" cy="109.75" rx="1.2" ry="1.0" fill="#ff0000" stroke="none"/>
<ellipse cx="604.65" cy="110.50" rx="1.2" ry="1.0" fill="#0000ff" stroke="none"/>
<ellipse cx="607.91" cy="111.39" rx="1.2" ry="1.0" fill="#ff0000" stroke="none"/>
<ellipse cx="607.91" cy="111.64" rx="1.2" ry="1.0" fill="#0000ff" stroke="none"/>
<ellipse cx="611.16" cy="112.54" rx="1.2" ry="1.0" fill="#ff0000" stroke="none"/>
<ellipse cx="611.16" cy="112.69" rx="1.2" ry="1.0" fill="#0000ff" stroke="none"/>
<ellipse cx="614.42" cy="114.76" rx="1.2" ry="1.0" fill="#ff0000" stroke="none"/>
<ellipse cx="614.42" cy="115.18" rx="1.2" ry="1.0" fill="#0000ff" stroke="none"/>
<ellipse cx="617.67" cy="115.21" rx="1.2" ry="1.0" fill="#ff0000" stroke="none"/>
<ellipse cx="617.67" cy="115.21" rx="1.2" ry="1.0" fill="#0000ff" stroke="none"/>
<ellipse cx="620.93" cy="116.95" rx="1.2" ry="1.0" fill="#ff0000" stroke="none"/>
<ellipse cx="620.93" cy="116.89" rx="1.2" ry="1.0" fill="#0000ff" stroke="none"/>
<ellipse cx="624.18" cy="117.27" rx="1.2" ry="1.0" fill="#ff0000" stroke="none"/>
<ellipse cx="624.18" cy="118.21" rx="1.2" ry="1.0" fill="#0000ff" stroke="none"/>
<ellipse cx="627.44" cy="118.74" rx="1.2" ry="1.0" fill="#ff0000" stroke="none"/>
<ellipse cx="627.44" cy="119.66" rx="1.2" ry="1.0" fill="#0000ff" stroke="none"/>
<ellipse cx="630.69" cy="121.57" rx="1.2" ry="1.0" fill="#ff0000" stroke="none"/>
<ellipse cx="630.69" cy="121.07" rx="1.2" ry="1.0" fill="#0000ff" stroke="none"/>
<ellipse cx="633.95" cy="123.16" rx="1.2" ry="1.0" fill="#ff0000" stroke="none"/>
<ellipse cx="633.95" cy="122.62" rx="1.2" ry="1.0" fill="#0000ff" stroke="none"/>
<ellipse cx="637.21" cy="124.95" rx="1.2" ry="1.0" fill="#ff0000" stroke="none"/>
<ellipse cx="637.21" cy="125.42" rx="1.2" ry="1.0" fill="#0000ff" stroke="none"/>
<ellipse cx="640.46" cy="125.53" rx="1.2" ry="1.0" fill="#ff0000" stroke="none"/>
<ellipse cx="640.46" cy="126.11" rx="1.2" ry="1.0" fill="#0000ff" stroke="none"/>
<ellipse cx="643.72" cy="124.30" rx="1.2" ry="1.0" fill="#ff0000" stroke="none"/>
<ellipse cx="643.72" cy="126.83" rx="1.2" ry="1.0" fill="#0000ff" stroke="none"/>
<line x1="646.97" y1="125.84" x2="646.97" y2="127.78" stroke="#ff0000" stroke-width="1" />
<ellipse cx="646.97" cy="126.81" rx="1.2" ry="1.0" fill="#ff0000" stroke="none"/>
<line x1="646.97" y1="127.16" x2="646.97" y2="129.10" stroke="#0000ff" stroke-width="1" />
<ellipse cx="646.97" cy="128.13" rx="1.2" ry="1.0" fill="#0000ff" stroke="none"/>
<line x1="650.23" y1="129.79" x2="650.23" y2="132.01" stroke="#ff0000" stroke-width="1" />
<ellipse cx="650.23" cy="130.90" rx="1.2" ry="1.0" fill="#ff0000" stroke="none"/>
<line x1="650.23" y1="130.52" x2="650.23" y2="132.75" stroke="#0000ff" stroke-width="1" />
<ellipse cx="650.23" cy="131.63" rx="1.2" ry="1.0" fill="#0000ff" stroke="none"/>
<line x1="653.48" y1="131.33" x2="653.48" y2="133.87" stroke="#ff0000" stroke-width="1" />
<ellipse cx="653.48" cy="132.60" rx="1.2" ry="1.0" fill="#ff0000" stroke="none"/>
<line x1="653.48" y1="132.51" x2="653.48" y2="135.05" stroke="#0000ff" stroke-width="1" />
<ellipse cx="653.48" cy="133.78" rx="1.2" ry="1.0" fill="#0000ff" stroke="none"/>
<line x1="656.74" y1="135.89" x2="656.74" y2="138.77" stroke="#ff0000" stroke-width="1" />
<ellipse cx="656.74" cy="137.33" rx="1.2" ry="1.0" fill="#ff0000" stroke="none"/>
<line x1="656.74" y1="137.11" x2="656.74" y2="139.99" stroke="#0000ff" stroke-width="1" />
<ellipse cx="656.74" cy="138.55" rx="1.2" ry="1.0" fill="#0000ff" stroke="none"/>
<line x1="659.99" y1="135.22" x2="659.99" y2="138.47" stroke="#ff0000" stroke-width="1" />
<ellipse cx="659.99" cy="136.84" rx="1.2" ry="1.0" fill="#ff0000" stroke="none"/>
<line x1="659.99" y1="135.55" x2="659.99" y2="138.81" stroke="#0000ff" stroke-width="1" />
<ellipse cx="659.99" cy="137.18" rx="1.2" ry="1.0" fill="#0000ff" stroke="none"/>
<line x1="663.25" y1="138.63" x2="663.25" y2="142.28" stroke="#ff0000" stroke-width="1" />
<ellipse cx="663.25" cy="140.46" rx="1.2" ry="1.0" fill="#ff0000" stroke="none"/>
<line x1="663.25" y1="139.51" x2="663.25" y2="143.17" stroke="#0000ff" stroke-width="1" />
<ellipse cx="663.25" cy="141.34" rx="1.2" ry="1.0" fill="#0000ff" stroke="none"/>
<line x1="666.51" y1="137.08" x2="666.51" y2="141.16" stroke="#ff0000" stroke-width="1" />
<ellipse cx="666.51" cy="139.12" rx="1.2" ry="1.0" fill="#ff0000" stroke="none"/>
<line x1="666.51" y1="139.66" x2="666.51" y2="143.74" stroke="#0000ff" stroke-width="1" />
<ellipse cx="666.51" cy="141.70" rx="1.2" ry="1.0" fill="#0000ff" stroke="none"/>
<line x1="669.76" y1="140.90" x2="669.76" y2="145.42" stroke="#ff0000" stroke-width="1" />
<ellipse cx="669.76" cy="143.16" rx="1.2" ry="1.0" fill="#ff0000" stroke="none"/>
<line x1="669.76" y1="141.00" x2="669.76" y2="145.53" stroke="#0000ff" stroke-width="1" />
<ellipse cx="669.76" cy="143.27" rx="1.2" ry="1.0" fill="#0000ff" stroke="none"/>
<line x1="673.02" y1="145.13" x2="673.02" y2="150.14" stroke="#ff0000" stroke-width="1" />
<ellipse cx="673.02" cy="147.63" rx="1.2" ry="1.0" fill="#ff0000" stroke="none"/>
<line x1="673.02" y1="145.70" x2="673.02" y2="150.71" stroke="#0000ff" stroke-width="1" />
<ellipse cx="673.02" cy="148.21" rx="1.2" ry="1.0" fill="#0000ff" stroke="none"/>
<line x1="676.57" y1="149.10" x2="676.57" y2="154.66" stroke="#ff0000" stroke-width="1" />
<ellipse cx="676.57" cy="151.88" rx="1.2" ry="1.0" fill="#ff0000" stroke="none"/>
<line x1="676.57" y1="150.50" x2="676.57" y2="156.07" stroke="#0000ff" stroke-width="1" />
<ellipse cx="676.57" cy="153.28" rx="1.2" ry="1.0" fill="#0000ff" stroke="none"/>
</g>
<rect x="385.5" y="1.5" width="293.0" height="161.0" fill="none" stroke="#3a3a3a" stroke-width="1"/>
<line x1="385.50" y1="162.50" x2="390.90" y2="162.50" stroke="#3a3a3a" stroke-width="1.0" />
<line x1="385.50" y1="160.50" x2="390.90" y2="160.50" stroke="#3a3a3a" stroke-width="1.0" />
<line x1="385.50" y1="158.50" x2="390.90" y2="158.50" stroke="#3a3a3a" stroke-width="1.0" />
<line x1="385.50" y1="156.50" x2="396.30" y2="156.50" stroke="#3a3a3a" stroke-width="1.0" />
<line x1="385.50" y1="144.50" x2="390.90" y2="144.50" stroke="#3a3a3a" stroke-width="1.0" />
<line x1="385.50" y1="137.50" x2="390.90" y2="137.50" stroke="#3a3a3a" stroke-width="1.0" />
<line x1="385.50" y1="132.50" x2="390.90" y2="132.50" stroke="#3a3a3a" stroke-width="1.0" />
<line x1="385.50" y1="128.50" x2="390.90" y2="128.50" stroke="#3a3a3a" stroke-width="1.0" />
<line x1="385.50" y1="125.50" x2="390.90" y2="125.50" stroke="#3a3a3a" stroke-width="1.0" />
<line x1="385.50" y1="122.50" x2="390.90" y2="122.50" stroke="#3a3a3a" stroke-width="1.0" />
<line x1="385.50" y1="120.50" x2="390.90" y2="120.50" stroke="#3a3a3a" stroke-width="1.0" />
<line x1="385.50" y1="118.50" x2="390.90" y2="118.50" stroke="#3a3a3a" stroke-width="1.0" />
<line x1="385.50" y1="116.50" x2="396.30" y2="116.50" stroke="#3a3a3a" stroke-width="1.0" />
<line x1="385.50" y1="104.50" x2="390.90" y2="104.50" stroke="#3a3a3a" stroke-width="1.0" />
<line x1="385.50" y1="97.50" x2="390.90" y2="97.50" stroke="#3a3a3a" stroke-width="1.0" />
<line x1="385.50" y1="92.50" x2="390.90" y2="92.50" stroke="#3a3a3a" stroke-width="1.0" />
<line x1="385.50" y1="88.50" x2="390.90" y2="88.50" stroke="#3a3a3a" stroke-width="1.0" />
<line x1="385.50" y1="85.50" x2="390.90" y2="85.50" stroke="#3a3a3a" stroke-width="1.0" />
<line x1="385.50" y1="82.50" x2="390.90" y2="82.50" stroke="#3a3a3a" stroke-width="1.0" />
<line x1="385.50" y1="80.50" x2="390.90" y2="80.50" stroke="#3a3a3a" stroke-width="1.0" />
<line x1="385.50" y1="78.50" x2="390.90" y2="78.50" stroke="#3a3a3a" stroke-width="1.0" />
<line x1="385.50" y1="76.50" x2="396.30" y2="76.50" stroke="#3a3a3a" stroke-width="1.0" />
<line x1="385.50" y1="64.50" x2="390.90" y2="64.50" stroke="#3a3a3a" stroke-width="1.0" />
<line x1="385.50" y1="57.50" x2="390.90" y2="57.50" stroke="#3a3a3a" stroke-width="1.0" />
<line x1="385.50" y1="52.50" x2="390.90" y2="52.50" stroke="#3a3a3a" stroke-width="1.0" />
<line x1="385.50" y1="48.50" x2="390.90" y2="48.50" stroke="#3a3a3a" stroke-width="1.0" />
<line x1="385.50" y1="45.50" x2="390.90" y2="45.50" stroke="#3a3a3a" stroke-width="1.0" />
<line x1="385.50" y1="42.50" x2="390.90" y2="42.50" stroke="#3a3a3a" stroke-width="1.0" />
<line x1="385.50" y1="40.50" x2="390.90" y2="40.50" stroke="#3a3a3a" stroke-width="1.0" />
<line x1="385.50" y1="38.50" x2="390.90" y2="38.50" stroke="#3a3a3a" stroke-width="1.0" />
<line x1="385.50" y1="36.50" x2="396.30" y2="36.50" stroke="#3a3a3a" stroke-width="1.0" />
<line x1="385.50" y1="24.50" x2="390.90" y2="24.50" stroke="#3a3a3a" stroke-width="1.0" />
<line x1="385.50" y1="17.50" x2="390.90" y2="17.50" stroke="#3a3a3a" stroke-width="1.0" />
<line x1="385.50" y1="12.50" x2="390.90" y2="12.50" stroke="#3a3a3a" stroke-width="1.0" />
<line x1="385.50" y1="8.50" x2="390.90" y2="8.50" stroke="#3a3a3a" stroke-width="1.0" />
<line x1="385.50" y1="5.50" x2="390.90" y2="5.50" stroke="#3a3a3a" stroke-width="1.0" />
<line x1="385.50" y1="2.50" x2="390.90" y2="2.50" stroke="#3a3a3a" stroke-width="1.0" />
<line x1="385.50" y1="162.50" x2="385.50" y2="158.50" stroke="#3a3a3a" stroke-width="1.0" />
<line x1="392.50" y1="162.50" x2="392.50" y2="160.50" stroke="#3a3a3a" stroke-width="1.0" />
<line x1="398.50" y1="162.50" x2="398.50" y2="160.50" stroke="#3a3a3a" stroke-width="1.0" />
<line x1="405.50" y1="162.50" x2="405.50" y2="160.50" stroke="#3a3a3a" stroke-width="1.0" />
<line x1="411.50" y1="162.50" x2="411.50" y2="160.50" stroke="#3a3a3a" stroke-width="1.0" />
<line x1="418.50" y1="162.50" x2="418.50" y2="158.50" stroke="#3a3a3a" stroke-width="1.0" />
<line x1="424.50" y1="162.50" x2="424.50" y2="160.50" stroke="#3a3a3a" stroke-width="1.0" />
<line x1="431.50" y1="162.50" x2="431.50" y2="160.50" stroke="#3a3a3a" stroke-width="1.0" />
<line x1="437.50" y1="162.50" x2="437.50" y2="160.50" stroke="#3a3a3a" stroke-width="1.0" />
<line x1="444.50" y1="162.50" x2="444.50" y2="160.50" stroke="#3a3a3a" stroke-width="1.0" />
<line x1="450.50" y1="162.50" x2="450.50" y2="158.50" stroke="#3a3a3a" stroke-width="1.0" />
<line x1="457.50" y1="162.50" x2="457.50" y2="160.50" stroke="#3a3a3a" stroke-width="1.0" />
<line x1="463.50" y1="162.50" x2="463.50" y2="160.50" stroke="#3a3a3a" stroke-width="1.0" />
<line x1="470.50" y1="162.50" x2="470.50" y2="160.50" stroke="#3a3a3a" stroke-width="1.0" />
<line x1="476.50" y1="162.50" x2="476.50" y2="160.50" stroke="#3a3a3a" stroke-width="1.0" />
<line x1="483.50" y1="162.50" x2="483.50" y2="158.50" stroke="#3a3a3a" stroke-width="1.0" />
<line x1="489.50" y1="162.50" x2="489.50" y2="160.50" stroke="#3a3a3a" stroke-width="1.0" />
<line x1="496.50" y1="162.50" x2="496.50" y2="160.50" stroke="#3a3a3a" stroke-width="1.0" />
<line x1="502.50" y1="162.50" x2="502.50" y2="160.50" stroke="#3a3a3a" stroke-width="1.0" />
<line x1="509.50" y1="162.50" x2="509.50" y2="160.50" stroke="#3a3a3a" stroke-width="1.0" />
<line x1="515.50" y1="162.50" x2="515.50" y2="158.50" stroke="#3a3a3a" stroke-width="1.0" />
<line x1="522.50" y1="162.50" x2="522.50" y2="160.50" stroke="#3a3a3a" stroke-width="1.0" />
<line x1="528.50" y1="162.50" x2="528.50" y2="160.50" stroke="#3a3a3a" stroke-width="1.0" />
<line x1="535.50" y1="162.50" x2="535.50" y2="160.50" stroke="#3a3a3a" stroke-width="1.0" />
<line x1="541.50" y1="162.50" x2="541.50" y2="160.50" stroke="#3a3a3a" stroke-width="1.0" />
<line x1="548.50" y1="162.50" x2="548.50" y2="158.50" stroke="#3a3a3a" stroke-width="1.0" />
<line x1="554.50" y1="162.50" x2="554.50" y2="160.50" stroke="#3a3a3a" stroke-width="1.0" />
<line x1="561.50" y1="162.50" x2="561.50" y2="160.50" stroke="#3a3a3a" stroke-width="1.0" />
<line x1="567.50" y1="162.50" x2="567.50" y2="160.50" stroke="#3a3a3a" stroke-width="1.0" />
<line x1="574.50" y1="162.50" x2="574.50" y2="160.50" stroke="#3a3a3a" stroke-width="1.0" />
<line x1="580.50" y1="162.50" x2="580.50" y2="158.50" stroke="#3a3a3a" stroke-width="1.0" />
<line x1="587.50" y1="162.50" x2="587.50" y2="160.50" stroke="#3a3a3a" stroke-width="1.0" />
<line x1="593.50" y1="162.50" x2="593.50" y2="160.50" stroke="#3a3a3a" stroke-width="1.0" />
<line x1="600.50" y1="162.50" x2="600.50" y2="160.50" stroke="#3a3a3a" stroke-width="1.0" />
<line x1="606.50" y1="162.50" x2="606.50" y2="160.50" stroke="#3a3a3a" stroke-width="1.0" />
<line x1="613.50" y1="162.50" x2="613.50" y2="158.50" stroke="#3a3a3a" stroke-width="1.0" />
<line x1="619.50" y1="162.50" x2="619.50" y2="160.50" stroke="#3a3a3a" stroke-width="1.0" />
<line x1="626.50" y1="162.50" x2="626.50" y2="160.50" stroke="#3a3a3a" stroke-width="1.0" />
<line x1="632.50" y1="162.50" x2="632.50" y2="160.50" stroke="#3a3a3a" stroke-width="1.0" />
<line x1="639.50" y1="162.50" x2="639.50" y2="160.50" stroke="#3a3a3a" stroke-width="1.0" />
<line x1="645.50" y1="162.50" x2="645.50" y2="158.50" stroke="#3a3a3a" stroke-width="1.0" />
<line x1="652.50" y1="162.50" x2="652.50" y2="160.50" stroke="#3a3a3a" stroke-width="1.0" />
<line x1="658.50" y1="162.50" x2="658.50" y2="160.50" stroke="#3a3a3a" stroke-width="1.0" />
<line x1="665.50" y1="162.50" x2="665.50" y2="160.50" stroke="#3a3a3a" stroke-width="1.0" />
<line x1="671.50" y1="162.50" x2="671.50" y2="160.50" stroke="#3a3a3a" stroke-width="1.0" />
<line x1="678.50" y1="162.50" x2="678.50" y2="158.50" stroke="#3a3a3a" stroke-width="1.0" />
<path class="g1" d="M763 0L583 0L583 1147Q518 1085 412 1023Q307 961 223 930L223 1104Q374 1175 487 1276Q600 1377 647 1472L763 1472Z" transform="translate(364.52,40.20) scale(0.004395,-0.004395)" stroke-width="50.1"/>
<text x="369.53" y="40.20" font-size="9.0">0</text>
<text x="374.53" y="35.60" font-size="6.2">&#8722;</text>
<path class="g1" d="M763 0L583 0L583 1147Q518 1085 412 1023Q307 961 223 930L223 1104Q374 1175 487 1276Q600 1377 647 1472L763 1472Z" transform="translate(378.15,35.60) scale(0.003027,-0.003027)" stroke-width="72.7"/>
<path class="g1" d="M763 0L583 0L583 1147Q518 1085 412 1023Q307 961 223 930L223 1104Q374 1175 487 1276Q600 1377 647 1472L763 1472Z" transform="translate(364.52,80.20) scale(0.004395,-0.004395)" stroke-width="50.1"/>
<text x="369.53" y="80.20" font-size="9.0">0</text>
<text x="374.53" y="75.60" font-size="6.2">&#8722;2</text>
<path class="g1" d="M763 0L583 0L583 1147Q518 1085 412 1023Q307 961 223 930L223 1104Q374 1175 487 1276Q600 1377 647 1472L763 1472Z" transform="translate(364.52,120.20) scale(0.004395,-0.004395)" stroke-width="50.1"/>
<text x="369.53" y="120.20" font-size="9.0">0</text>
<text x="374.53" y="115.60" font-size="6.2">&#8722;3</text>
<path class="g1" d="M763 0L583 0L583 1147Q518 1085 412 1023Q307 961 223 930L223 1104Q374 1175 487 1276Q600 1377 647 1472L763 1472Z" transform="translate(364.52,160.20) scale(0.004395,-0.004395)" stroke-width="50.1"/>
<text x="369.53" y="160.20" font-size="9.0">0</text>
<text x="374.53" y="155.60" font-size="6.2">&#8722;4</text>
<g transform="translate(363.4,-1.2) rotate(-90)">
<text x="-7.46" y="0" font-size="8.95" text-anchor="end">Normalized to</text>
<path class="g1" d="M763 0L583 0L583 1147Q518 1085 412 1023Q307 961 223 930L223 1104Q374 1175 487 1276Q600 1377 647 1472L763 1472Z" transform="translate(-4.98,0) scale(0.004370,-0.004370)" stroke-width="50.3"/>
</g>
<rect x="385.5" y="162.5" width="293.0" height="51.900000000000006" fill="none" stroke="#3a3a3a" stroke-width="1"/>
<line x1="385.50" y1="188.50" x2="678.50" y2="188.50" stroke="#333" stroke-width="1.0" stroke-dasharray="2.2,1.7"/>
<line x1="385.50" y1="210.50" x2="393.00" y2="210.50" stroke="#3a3a3a" stroke-width="1.0" />
<text x="378.39" y="213.60" font-size="9.0">0</text>
<line x1="385.50" y1="188.50" x2="393.00" y2="188.50" stroke="#3a3a3a" stroke-width="1.0" />
<path class="g1" d="M763 0L583 0L583 1147Q518 1085 412 1023Q307 961 223 930L223 1104Q374 1175 487 1276Q600 1377 647 1472L763 1472Z" transform="translate(378.39,191.70) scale(0.004395,-0.004395)" stroke-width="50.1"/>
<line x1="385.50" y1="166.50" x2="393.00" y2="166.50" stroke="#3a3a3a" stroke-width="1.0" />
<text x="378.39" y="169.80" font-size="9.0">2</text>
<line x1="385.50" y1="214.40" x2="385.50" y2="212.50" stroke="#3a3a3a" stroke-width="1.0" />
<line x1="392.50" y1="214.40" x2="392.50" y2="213.40" stroke="#3a3a3a" stroke-width="1.0" />
<line x1="398.50" y1="214.40" x2="398.50" y2="213.40" stroke="#3a3a3a" stroke-width="1.0" />
<line x1="405.50" y1="214.40" x2="405.50" y2="213.40" stroke="#3a3a3a" stroke-width="1.0" />
<line x1="411.50" y1="214.40" x2="411.50" y2="213.40" stroke="#3a3a3a" stroke-width="1.0" />
<line x1="418.50" y1="214.40" x2="418.50" y2="212.50" stroke="#3a3a3a" stroke-width="1.0" />
<line x1="424.50" y1="214.40" x2="424.50" y2="213.40" stroke="#3a3a3a" stroke-width="1.0" />
<line x1="431.50" y1="214.40" x2="431.50" y2="213.40" stroke="#3a3a3a" stroke-width="1.0" />
<line x1="437.50" y1="214.40" x2="437.50" y2="213.40" stroke="#3a3a3a" stroke-width="1.0" />
<line x1="444.50" y1="214.40" x2="444.50" y2="213.40" stroke="#3a3a3a" stroke-width="1.0" />
<line x1="450.50" y1="214.40" x2="450.50" y2="212.50" stroke="#3a3a3a" stroke-width="1.0" />
<line x1="457.50" y1="214.40" x2="457.50" y2="213.40" stroke="#3a3a3a" stroke-width="1.0" />
<line x1="463.50" y1="214.40" x2="463.50" y2="213.40" stroke="#3a3a3a" stroke-width="1.0" />
<line x1="470.50" y1="214.40" x2="470.50" y2="213.40" stroke="#3a3a3a" stroke-width="1.0" />
<line x1="476.50" y1="214.40" x2="476.50" y2="213.40" stroke="#3a3a3a" stroke-width="1.0" />
<line x1="483.50" y1="214.40" x2="483.50" y2="212.50" stroke="#3a3a3a" stroke-width="1.0" />
<line x1="489.50" y1="214.40" x2="489.50" y2="213.40" stroke="#3a3a3a" stroke-width="1.0" />
<line x1="496.50" y1="214.40" x2="496.50" y2="213.40" stroke="#3a3a3a" stroke-width="1.0" />
<line x1="502.50" y1="214.40" x2="502.50" y2="213.40" stroke="#3a3a3a" stroke-width="1.0" />
<line x1="509.50" y1="214.40" x2="509.50" y2="213.40" stroke="#3a3a3a" stroke-width="1.0" />
<line x1="515.50" y1="214.40" x2="515.50" y2="212.50" stroke="#3a3a3a" stroke-width="1.0" />
<line x1="522.50" y1="214.40" x2="522.50" y2="213.40" stroke="#3a3a3a" stroke-width="1.0" />
<line x1="528.50" y1="214.40" x2="528.50" y2="213.40" stroke="#3a3a3a" stroke-width="1.0" />
<line x1="535.50" y1="214.40" x2="535.50" y2="213.40" stroke="#3a3a3a" stroke-width="1.0" />
<line x1="541.50" y1="214.40" x2="541.50" y2="213.40" stroke="#3a3a3a" stroke-width="1.0" />
<line x1="548.50" y1="214.40" x2="548.50" y2="212.50" stroke="#3a3a3a" stroke-width="1.0" />
<line x1="554.50" y1="214.40" x2="554.50" y2="213.40" stroke="#3a3a3a" stroke-width="1.0" />
<line x1="561.50" y1="214.40" x2="561.50" y2="213.40" stroke="#3a3a3a" stroke-width="1.0" />
<line x1="567.50" y1="214.40" x2="567.50" y2="213.40" stroke="#3a3a3a" stroke-width="1.0" />
<line x1="574.50" y1="214.40" x2="574.50" y2="213.40" stroke="#3a3a3a" stroke-width="1.0" />
<line x1="580.50" y1="214.40" x2="580.50" y2="212.50" stroke="#3a3a3a" stroke-width="1.0" />
<line x1="587.50" y1="214.40" x2="587.50" y2="213.40" stroke="#3a3a3a" stroke-width="1.0" />
<line x1="593.50" y1="214.40" x2="593.50" y2="213.40" stroke="#3a3a3a" stroke-width="1.0" />
<line x1="600.50" y1="214.40" x2="600.50" y2="213.40" stroke="#3a3a3a" stroke-width="1.0" />
<line x1="606.50" y1="214.40" x2="606.50" y2="213.40" stroke="#3a3a3a" stroke-width="1.0" />
<line x1="613.50" y1="214.40" x2="613.50" y2="212.50" stroke="#3a3a3a" stroke-width="1.0" />
<line x1="619.50" y1="214.40" x2="619.50" y2="213.40" stroke="#3a3a3a" stroke-width="1.0" />
<line x1="626.50" y1="214.40" x2="626.50" y2="213.40" stroke="#3a3a3a" stroke-width="1.0" />
<line x1="632.50" y1="214.40" x2="632.50" y2="213.40" stroke="#3a3a3a" stroke-width="1.0" />
<line x1="639.50" y1="214.40" x2="639.50" y2="213.40" stroke="#3a3a3a" stroke-width="1.0" />
<line x1="645.50" y1="214.40" x2="645.50" y2="212.50" stroke="#3a3a3a" stroke-width="1.0" />
<line x1="652.50" y1="214.40" x2="652.50" y2="213.40" stroke="#3a3a3a" stroke-width="1.0" />
<line x1="658.50" y1="214.40" x2="658.50" y2="213.40" stroke="#3a3a3a" stroke-width="1.0" />
<line x1="665.50" y1="214.40" x2="665.50" y2="213.40" stroke="#3a3a3a" stroke-width="1.0" />
<line x1="671.50" y1="214.40" x2="671.50" y2="213.40" stroke="#3a3a3a" stroke-width="1.0" />
<line x1="678.50" y1="214.40" x2="678.50" y2="212.50" stroke="#3a3a3a" stroke-width="1.0" />
<text x="382.60" y="222.40" font-size="9.0">0</text>
<text x="412.65" y="222.40" font-size="9.0">50</text>
<path class="g1" d="M763 0L583 0L583 1147Q518 1085 412 1023Q307 961 223 930L223 1104Q374 1175 487 1276Q600 1377 647 1472L763 1472Z" transform="translate(442.70,222.40) scale(0.004395,-0.004395)" stroke-width="50.1"/>
<text x="447.71" y="222.40" font-size="9.0">00</text>
<path class="g1" d="M763 0L583 0L583 1147Q518 1085 412 1023Q307 961 223 930L223 1104Q374 1175 487 1276Q600 1377 647 1472L763 1472Z" transform="translate(475.26,222.40) scale(0.004395,-0.004395)" stroke-width="50.1"/>
<text x="480.26" y="222.40" font-size="9.0">50</text>
<text x="507.81" y="222.40" font-size="9.0">200</text>
<text x="540.37" y="222.40" font-size="9.0">250</text>
<text x="572.93" y="222.40" font-size="9.0">300</text>
<text x="605.48" y="222.40" font-size="9.0">350</text>
<text x="638.04" y="222.40" font-size="9.0">400</text>
<text x="670.59" y="222.40" font-size="9.0">450</text>
<text x="678.50" y="229.90" font-size="8.4" text-anchor="end" >&#961; dark mesons p<tspan font-size="6.8" dy="4.1">T</tspan><tspan dy="-4.1"> [GeV]</tspan></text>
<text x="0.00" y="0.00" font-size="9.8" text-anchor="end" transform="translate(364.0,163.2) rotate(-90)">Ratio</text>
<g clip-path="url(#crr)">
<line x1="385.50" y1="194.54" x2="388.16" y2="194.54" stroke="#ff0000" stroke-width="1.1" />
<line x1="385.50" y1="194.24" x2="388.16" y2="194.24" stroke="#0000ff" stroke-width="1.1" />
<line x1="388.16" y1="193.73" x2="391.41" y2="193.73" stroke="#ff0000" stroke-width="1.1" />
<line x1="388.16" y1="193.43" x2="391.41" y2="193.43" stroke="#0000ff" stroke-width="1.1" />
<line x1="391.41" y1="192.84" x2="394.67" y2="192.84" stroke="#ff0000" stroke-width="1.1" />
<line x1="391.41" y1="192.54" x2="394.67" y2="192.54" stroke="#0000ff" stroke-width="1.1" />
<line x1="394.67" y1="191.74" x2="397.92" y2="191.74" stroke="#ff0000" stroke-width="1.1" />
<line x1="394.67" y1="191.90" x2="397.92" y2="191.90" stroke="#0000ff" stroke-width="1.1" />
<line x1="397.92" y1="190.86" x2="401.18" y2="190.86" stroke="#ff0000" stroke-width="1.1" />
<line x1="397.92" y1="190.80" x2="401.18" y2="190.80" stroke="#0000ff" stroke-width="1.1" />
<line x1="401.18" y1="189.71" x2="404.43" y2="189.71" stroke="#ff0000" stroke-width="1.1" />
<line x1="401.18" y1="189.67" x2="404.43" y2="189.67" stroke="#0000ff" stroke-width="1.1" />
<line x1="404.43" y1="188.71" x2="407.69" y2="188.71" stroke="#ff0000" stroke-width="1.1" />
<line x1="404.43" y1="188.62" x2="407.69" y2="188.62" stroke="#0000ff" stroke-width="1.1" />
<line x1="407.69" y1="188.24" x2="410.94" y2="188.24" stroke="#ff0000" stroke-width="1.1" />
<line x1="407.69" y1="188.31" x2="410.94" y2="188.31" stroke="#0000ff" stroke-width="1.1" />
<line x1="410.94" y1="188.01" x2="414.20" y2="188.01" stroke="#ff0000" stroke-width="1.1" />
<line x1="410.94" y1="187.79" x2="414.20" y2="187.79" stroke="#0000ff" stroke-width="1.1" />
<line x1="414.20" y1="186.80" x2="417.46" y2="186.80" stroke="#ff0000" stroke-width="1.1" />
<line x1="414.20" y1="187.12" x2="417.46" y2="187.12" stroke="#0000ff" stroke-width="1.1" />
<line x1="417.46" y1="186.41" x2="420.71" y2="186.41" stroke="#ff0000" stroke-width="1.1" />
<line x1="417.46" y1="186.66" x2="420.71" y2="186.66" stroke="#0000ff" stroke-width="1.1" />
<line x1="420.71" y1="186.26" x2="423.97" y2="186.26" stroke="#ff0000" stroke-width="1.1" />
<line x1="420.71" y1="185.72" x2="423.97" y2="185.72" stroke="#0000ff" stroke-width="1.1" />
<line x1="423.97" y1="185.51" x2="427.22" y2="185.51" stroke="#ff0000" stroke-width="1.1" />
<line x1="423.97" y1="185.62" x2="427.22" y2="185.62" stroke="#0000ff" stroke-width="1.1" />
<line x1="427.22" y1="185.28" x2="430.48" y2="185.28" stroke="#ff0000" stroke-width="1.1" />
<line x1="427.22" y1="184.93" x2="430.48" y2="184.93" stroke="#0000ff" stroke-width="1.1" />
<line x1="430.48" y1="184.92" x2="433.73" y2="184.92" stroke="#ff0000" stroke-width="1.1" />
<line x1="430.48" y1="184.75" x2="433.73" y2="184.75" stroke="#0000ff" stroke-width="1.1" />
<line x1="433.73" y1="184.61" x2="436.99" y2="184.61" stroke="#ff0000" stroke-width="1.1" />
<line x1="433.73" y1="184.33" x2="436.99" y2="184.33" stroke="#0000ff" stroke-width="1.1" />
<line x1="436.99" y1="184.00" x2="440.24" y2="184.00" stroke="#ff0000" stroke-width="1.1" />
<line x1="436.99" y1="183.77" x2="440.24" y2="183.77" stroke="#0000ff" stroke-width="1.1" />
<line x1="440.24" y1="183.99" x2="443.50" y2="183.99" stroke="#ff0000" stroke-width="1.1" />
<ellipse cx="441.87" cy="183.99" rx="1.2" ry="0.95" fill="#ff0000"/>
<line x1="440.24" y1="183.48" x2="443.50" y2="183.48" stroke="#0000ff" stroke-width="1.1" />
<ellipse cx="441.87" cy="183.48" rx="1.2" ry="0.95" fill="#0000ff"/>
<line x1="443.50" y1="183.26" x2="446.76" y2="183.26" stroke="#ff0000" stroke-width="1.1" />
<ellipse cx="445.13" cy="183.26" rx="1.2" ry="0.95" fill="#ff0000"/>
<line x1="443.50" y1="183.24" x2="446.76" y2="183.24" stroke="#0000ff" stroke-width="1.1" />
<ellipse cx="445.13" cy="183.24" rx="1.2" ry="0.95" fill="#0000ff"/>
<line x1="446.76" y1="182.71" x2="450.01" y2="182.71" stroke="#ff0000" stroke-width="1.1" />
<ellipse cx="448.38" cy="182.71" rx="1.2" ry="0.95" fill="#ff0000"/>
<line x1="446.76" y1="182.86" x2="450.01" y2="182.86" stroke="#0000ff" stroke-width="1.1" />
<ellipse cx="448.38" cy="182.86" rx="1.2" ry="0.95" fill="#0000ff"/>
<line x1="450.01" y1="182.98" x2="453.27" y2="182.98" stroke="#ff0000" stroke-width="1.1" />
<ellipse cx="451.64" cy="182.98" rx="1.2" ry="0.95" fill="#ff0000"/>
<line x1="450.01" y1="183.00" x2="453.27" y2="183.00" stroke="#0000ff" stroke-width="1.1" />
<ellipse cx="451.64" cy="183.00" rx="1.2" ry="0.95" fill="#0000ff"/>
<line x1="453.27" y1="182.55" x2="456.52" y2="182.55" stroke="#ff0000" stroke-width="1.1" />
<ellipse cx="454.89" cy="182.55" rx="1.2" ry="0.95" fill="#ff0000"/>
<line x1="453.27" y1="182.70" x2="456.52" y2="182.70" stroke="#0000ff" stroke-width="1.1" />
<ellipse cx="454.89" cy="182.70" rx="1.2" ry="0.95" fill="#0000ff"/>
<line x1="456.52" y1="182.17" x2="459.78" y2="182.17" stroke="#ff0000" stroke-width="1.1" />
<ellipse cx="458.15" cy="182.17" rx="1.2" ry="0.95" fill="#ff0000"/>
<line x1="456.52" y1="182.83" x2="459.78" y2="182.83" stroke="#0000ff" stroke-width="1.1" />
<ellipse cx="458.15" cy="182.83" rx="1.2" ry="0.95" fill="#0000ff"/>
<line x1="459.78" y1="182.40" x2="463.03" y2="182.40" stroke="#ff0000" stroke-width="1.1" />
<ellipse cx="461.41" cy="182.40" rx="1.2" ry="0.95" fill="#ff0000"/>
<line x1="459.78" y1="181.90" x2="463.03" y2="181.90" stroke="#0000ff" stroke-width="1.1" />
<ellipse cx="461.41" cy="181.90" rx="1.2" ry="0.95" fill="#0000ff"/>
<line x1="463.03" y1="182.06" x2="466.29" y2="182.06" stroke="#ff0000" stroke-width="1.1" />
<ellipse cx="464.66" cy="182.06" rx="1.2" ry="0.95" fill="#ff0000"/>
<line x1="463.03" y1="182.21" x2="466.29" y2="182.21" stroke="#0000ff" stroke-width="1.1" />
<ellipse cx="464.66" cy="182.21" rx="1.2" ry="0.95" fill="#0000ff"/>
<line x1="466.29" y1="182.17" x2="469.54" y2="182.17" stroke="#ff0000" stroke-width="1.1" />
<ellipse cx="467.92" cy="182.17" rx="1.2" ry="0.95" fill="#ff0000"/>
<line x1="466.29" y1="182.29" x2="469.54" y2="182.29" stroke="#0000ff" stroke-width="1.1" />
<ellipse cx="467.92" cy="182.29" rx="1.2" ry="0.95" fill="#0000ff"/>
<line x1="469.54" y1="182.43" x2="472.80" y2="182.43" stroke="#ff0000" stroke-width="1.1" />
<ellipse cx="471.17" cy="182.43" rx="1.2" ry="0.95" fill="#ff0000"/>
<line x1="469.54" y1="182.75" x2="472.80" y2="182.75" stroke="#0000ff" stroke-width="1.1" />
<ellipse cx="471.17" cy="182.75" rx="1.2" ry="0.95" fill="#0000ff"/>
<line x1="472.80" y1="182.91" x2="476.06" y2="182.91" stroke="#ff0000" stroke-width="1.1" />
<ellipse cx="474.43" cy="182.91" rx="1.2" ry="0.95" fill="#ff0000"/>
<line x1="472.80" y1="182.56" x2="476.06" y2="182.56" stroke="#0000ff" stroke-width="1.1" />
<ellipse cx="474.43" cy="182.56" rx="1.2" ry="0.95" fill="#0000ff"/>
<line x1="476.06" y1="182.91" x2="479.31" y2="182.91" stroke="#ff0000" stroke-width="1.1" />
<ellipse cx="477.68" cy="182.91" rx="1.2" ry="0.95" fill="#ff0000"/>
<line x1="476.06" y1="182.98" x2="479.31" y2="182.98" stroke="#0000ff" stroke-width="1.1" />
<ellipse cx="477.68" cy="182.98" rx="1.2" ry="0.95" fill="#0000ff"/>
<line x1="479.31" y1="183.08" x2="482.57" y2="183.08" stroke="#ff0000" stroke-width="1.1" />
<ellipse cx="480.94" cy="183.08" rx="1.2" ry="0.95" fill="#ff0000"/>
<line x1="479.31" y1="183.24" x2="482.57" y2="183.24" stroke="#0000ff" stroke-width="1.1" />
<ellipse cx="480.94" cy="183.24" rx="1.2" ry="0.95" fill="#0000ff"/>
<line x1="482.57" y1="183.54" x2="485.82" y2="183.54" stroke="#ff0000" stroke-width="1.1" />
<ellipse cx="484.19" cy="183.54" rx="1.2" ry="0.95" fill="#ff0000"/>
<line x1="482.57" y1="183.93" x2="485.82" y2="183.93" stroke="#0000ff" stroke-width="1.1" />
<ellipse cx="484.19" cy="183.93" rx="1.2" ry="0.95" fill="#0000ff"/>
<line x1="485.82" y1="183.49" x2="489.08" y2="183.49" stroke="#ff0000" stroke-width="1.1" />
<ellipse cx="487.45" cy="183.49" rx="1.2" ry="0.95" fill="#ff0000"/>
<line x1="485.82" y1="183.65" x2="489.08" y2="183.65" stroke="#0000ff" stroke-width="1.1" />
<ellipse cx="487.45" cy="183.65" rx="1.2" ry="0.95" fill="#0000ff"/>
<line x1="489.08" y1="183.89" x2="492.33" y2="183.89" stroke="#ff0000" stroke-width="1.1" />
<ellipse cx="490.71" cy="183.89" rx="1.2" ry="0.95" fill="#ff0000"/>
<line x1="489.08" y1="184.27" x2="492.33" y2="184.27" stroke="#0000ff" stroke-width="1.1" />
<ellipse cx="490.71" cy="184.27" rx="1.2" ry="0.95" fill="#0000ff"/>
<line x1="492.33" y1="183.93" x2="495.59" y2="183.93" stroke="#ff0000" stroke-width="1.1" />
<ellipse cx="493.96" cy="183.93" rx="1.2" ry="0.95" fill="#ff0000"/>
<line x1="492.33" y1="183.99" x2="495.59" y2="183.99" stroke="#0000ff" stroke-width="1.1" />
<ellipse cx="493.96" cy="183.99" rx="1.2" ry="0.95" fill="#0000ff"/>
<line x1="495.59" y1="184.56" x2="498.84" y2="184.56" stroke="#ff0000" stroke-width="1.1" />
<ellipse cx="497.22" cy="184.56" rx="1.2" ry="0.95" fill="#ff0000"/>
<line x1="495.59" y1="184.46" x2="498.84" y2="184.46" stroke="#0000ff" stroke-width="1.1" />
<ellipse cx="497.22" cy="184.46" rx="1.2" ry="0.95" fill="#0000ff"/>
<line x1="498.84" y1="184.45" x2="502.10" y2="184.45" stroke="#ff0000" stroke-width="1.1" />
<ellipse cx="500.47" cy="184.45" rx="1.2" ry="0.95" fill="#ff0000"/>
<line x1="498.84" y1="184.47" x2="502.10" y2="184.47" stroke="#0000ff" stroke-width="1.1" />
<ellipse cx="500.47" cy="184.47" rx="1.2" ry="0.95" fill="#0000ff"/>
<line x1="502.10" y1="184.98" x2="505.36" y2="184.98" stroke="#ff0000" stroke-width="1.1" />
<ellipse cx="503.73" cy="184.98" rx="1.2" ry="0.95" fill="#ff0000"/>
<line x1="502.10" y1="184.77" x2="505.36" y2="184.77" stroke="#0000ff" stroke-width="1.1" />
<ellipse cx="503.73" cy="184.77" rx="1.2" ry="0.95" fill="#0000ff"/>
<line x1="505.36" y1="185.01" x2="508.61" y2="185.01" stroke="#ff0000" stroke-width="1.1" />
<ellipse cx="506.98" cy="185.01" rx="1.2" ry="0.95" fill="#ff0000"/>
<line x1="505.36" y1="185.13" x2="508.61" y2="185.13" stroke="#0000ff" stroke-width="1.1" />
<ellipse cx="506.98" cy="185.13" rx="1.2" ry="0.95" fill="#0000ff"/>
<line x1="508.61" y1="184.60" x2="511.87" y2="184.60" stroke="#ff0000" stroke-width="1.1" />
<ellipse cx="510.24" cy="184.60" rx="1.2" ry="0.95" fill="#ff0000"/>
<line x1="508.61" y1="185.49" x2="511.87" y2="185.49" stroke="#0000ff" stroke-width="1.1" />
<ellipse cx="510.24" cy="185.49" rx="1.2" ry="0.95" fill="#0000ff"/>
<line x1="511.87" y1="184.99" x2="515.12" y2="184.99" stroke="#ff0000" stroke-width="1.1" />
<ellipse cx="513.49" cy="184.99" rx="1.2" ry="0.95" fill="#ff0000"/>
<line x1="511.87" y1="184.76" x2="515.12" y2="184.76" stroke="#0000ff" stroke-width="1.1" />
<ellipse cx="513.49" cy="184.76" rx="1.2" ry="0.95" fill="#0000ff"/>
<line x1="515.12" y1="185.97" x2="518.38" y2="185.97" stroke="#ff0000" stroke-width="1.1" />
<ellipse cx="516.75" cy="185.97" rx="1.2" ry="0.95" fill="#ff0000"/>
<line x1="515.12" y1="185.35" x2="518.38" y2="185.35" stroke="#0000ff" stroke-width="1.1" />
<ellipse cx="516.75" cy="185.35" rx="1.2" ry="0.95" fill="#0000ff"/>
<line x1="518.38" y1="185.87" x2="521.63" y2="185.87" stroke="#ff0000" stroke-width="1.1" />
<ellipse cx="520.01" cy="185.87" rx="1.2" ry="0.95" fill="#ff0000"/>
<line x1="518.38" y1="185.46" x2="521.63" y2="185.46" stroke="#0000ff" stroke-width="1.1" />
<ellipse cx="520.01" cy="185.46" rx="1.2" ry="0.95" fill="#0000ff"/>
<line x1="521.63" y1="184.94" x2="524.89" y2="184.94" stroke="#ff0000" stroke-width="1.1" />
<ellipse cx="523.26" cy="184.94" rx="1.2" ry="0.95" fill="#ff0000"/>
<line x1="521.63" y1="186.68" x2="524.89" y2="186.68" stroke="#0000ff" stroke-width="1.1" />
<ellipse cx="523.26" cy="186.68" rx="1.2" ry="0.95" fill="#0000ff"/>
<line x1="524.89" y1="185.51" x2="528.14" y2="185.51" stroke="#ff0000" stroke-width="1.1" />
<ellipse cx="526.52" cy="185.51" rx="1.2" ry="0.95" fill="#ff0000"/>
<line x1="524.89" y1="184.82" x2="528.14" y2="184.82" stroke="#0000ff" stroke-width="1.1" />
<ellipse cx="526.52" cy="184.82" rx="1.2" ry="0.95" fill="#0000ff"/>
<line x1="528.14" y1="185.88" x2="531.40" y2="185.88" stroke="#ff0000" stroke-width="1.1" />
<ellipse cx="529.77" cy="185.88" rx="1.2" ry="0.95" fill="#ff0000"/>
<line x1="528.14" y1="184.88" x2="531.40" y2="184.88" stroke="#0000ff" stroke-width="1.1" />
<ellipse cx="529.77" cy="184.88" rx="1.2" ry="0.95" fill="#0000ff"/>
<line x1="531.40" y1="186.37" x2="534.66" y2="186.37" stroke="#ff0000" stroke-width="1.1" />
<ellipse cx="533.03" cy="186.37" rx="1.2" ry="0.95" fill="#ff0000"/>
<line x1="531.40" y1="185.30" x2="534.66" y2="185.30" stroke="#0000ff" stroke-width="1.1" />
<ellipse cx="533.03" cy="185.30" rx="1.2" ry="0.95" fill="#0000ff"/>
<line x1="534.66" y1="186.20" x2="537.91" y2="186.20" stroke="#ff0000" stroke-width="1.1" />
<ellipse cx="536.28" cy="186.20" rx="1.2" ry="0.95" fill="#ff0000"/>
<line x1="534.66" y1="185.48" x2="537.91" y2="185.48" stroke="#0000ff" stroke-width="1.1" />
<ellipse cx="536.28" cy="185.48" rx="1.2" ry="0.95" fill="#0000ff"/>
<line x1="537.91" y1="185.54" x2="541.17" y2="185.54" stroke="#ff0000" stroke-width="1.1" />
<ellipse cx="539.54" cy="185.54" rx="1.2" ry="0.95" fill="#ff0000"/>
<line x1="537.91" y1="185.75" x2="541.17" y2="185.75" stroke="#0000ff" stroke-width="1.1" />
<ellipse cx="539.54" cy="185.75" rx="1.2" ry="0.95" fill="#0000ff"/>
<line x1="541.17" y1="187.06" x2="544.42" y2="187.06" stroke="#ff0000" stroke-width="1.1" />
<ellipse cx="542.79" cy="187.06" rx="1.2" ry="0.95" fill="#ff0000"/>
<line x1="541.17" y1="186.15" x2="544.42" y2="186.15" stroke="#0000ff" stroke-width="1.1" />
<ellipse cx="542.79" cy="186.15" rx="1.2" ry="0.95" fill="#0000ff"/>
<line x1="544.42" y1="186.31" x2="547.68" y2="186.31" stroke="#ff0000" stroke-width="1.1" />
<ellipse cx="546.05" cy="186.31" rx="1.2" ry="0.95" fill="#ff0000"/>
<line x1="544.42" y1="185.79" x2="547.68" y2="185.79" stroke="#0000ff" stroke-width="1.1" />
<ellipse cx="546.05" cy="185.79" rx="1.2" ry="0.95" fill="#0000ff"/>
<line x1="547.68" y1="187.21" x2="550.93" y2="187.21" stroke="#ff0000" stroke-width="1.1" />
<ellipse cx="549.31" cy="187.21" rx="1.2" ry="0.95" fill="#ff0000"/>
<line x1="547.68" y1="186.94" x2="550.93" y2="186.94" stroke="#0000ff" stroke-width="1.1" />
<ellipse cx="549.31" cy="186.94" rx="1.2" ry="0.95" fill="#0000ff"/>
<line x1="550.93" y1="186.42" x2="554.19" y2="186.42" stroke="#ff0000" stroke-width="1.1" />
<ellipse cx="552.56" cy="186.42" rx="1.2" ry="0.95" fill="#ff0000"/>
<line x1="550.93" y1="186.79" x2="554.19" y2="186.79" stroke="#0000ff" stroke-width="1.1" />
<ellipse cx="552.56" cy="186.79" rx="1.2" ry="0.95" fill="#0000ff"/>
<line x1="554.19" y1="186.12" x2="557.44" y2="186.12" stroke="#ff0000" stroke-width="1.1" />
<ellipse cx="555.82" cy="186.12" rx="1.2" ry="0.95" fill="#ff0000"/>
<line x1="554.19" y1="186.22" x2="557.44" y2="186.22" stroke="#0000ff" stroke-width="1.1" />
<ellipse cx="555.82" cy="186.22" rx="1.2" ry="0.95" fill="#0000ff"/>
<line x1="557.44" y1="186.90" x2="560.70" y2="186.90" stroke="#ff0000" stroke-width="1.1" />
<ellipse cx="559.07" cy="186.90" rx="1.2" ry="0.95" fill="#ff0000"/>
<line x1="557.44" y1="187.87" x2="560.70" y2="187.87" stroke="#0000ff" stroke-width="1.1" />
<ellipse cx="559.07" cy="187.87" rx="1.2" ry="0.95" fill="#0000ff"/>
<line x1="560.70" y1="187.79" x2="563.96" y2="187.79" stroke="#ff0000" stroke-width="1.1" />
<ellipse cx="562.33" cy="187.79" rx="1.2" ry="0.95" fill="#ff0000"/>
<line x1="560.70" y1="186.72" x2="563.96" y2="186.72" stroke="#0000ff" stroke-width="1.1" />
<ellipse cx="562.33" cy="186.72" rx="1.2" ry="0.95" fill="#0000ff"/>
<line x1="563.96" y1="186.71" x2="567.21" y2="186.71" stroke="#ff0000" stroke-width="1.1" />
<ellipse cx="565.58" cy="186.71" rx="1.2" ry="0.95" fill="#ff0000"/>
<line x1="563.96" y1="187.80" x2="567.21" y2="187.80" stroke="#0000ff" stroke-width="1.1" />
<ellipse cx="565.58" cy="187.80" rx="1.2" ry="0.95" fill="#0000ff"/>
<line x1="567.21" y1="187.46" x2="570.47" y2="187.46" stroke="#ff0000" stroke-width="1.1" />
<ellipse cx="568.84" cy="187.46" rx="1.2" ry="0.95" fill="#ff0000"/>
<line x1="567.21" y1="185.85" x2="570.47" y2="185.85" stroke="#0000ff" stroke-width="1.1" />
<ellipse cx="568.84" cy="185.85" rx="1.2" ry="0.95" fill="#0000ff"/>
<line x1="570.47" y1="186.51" x2="573.72" y2="186.51" stroke="#ff0000" stroke-width="1.1" />
<ellipse cx="572.09" cy="186.51" rx="1.2" ry="0.95" fill="#ff0000"/>
<line x1="570.47" y1="186.70" x2="573.72" y2="186.70" stroke="#0000ff" stroke-width="1.1" />
<ellipse cx="572.09" cy="186.70" rx="1.2" ry="0.95" fill="#0000ff"/>
<line x1="573.72" y1="187.51" x2="576.98" y2="187.51" stroke="#ff0000" stroke-width="1.1" />
<ellipse cx="575.35" cy="187.51" rx="1.2" ry="0.95" fill="#ff0000"/>
<line x1="573.72" y1="185.88" x2="576.98" y2="185.88" stroke="#0000ff" stroke-width="1.1" />
<ellipse cx="575.35" cy="185.88" rx="1.2" ry="0.95" fill="#0000ff"/>
<line x1="576.98" y1="186.76" x2="580.23" y2="186.76" stroke="#ff0000" stroke-width="1.1" />
<ellipse cx="578.61" cy="186.76" rx="1.2" ry="0.95" fill="#ff0000"/>
<line x1="576.98" y1="187.21" x2="580.23" y2="187.21" stroke="#0000ff" stroke-width="1.1" />
<ellipse cx="578.61" cy="187.21" rx="1.2" ry="0.95" fill="#0000ff"/>
<line x1="580.23" y1="186.94" x2="583.49" y2="186.94" stroke="#ff0000" stroke-width="1.1" />
<ellipse cx="581.86" cy="186.94" rx="1.2" ry="0.95" fill="#ff0000"/>
<line x1="580.23" y1="187.45" x2="583.49" y2="187.45" stroke="#0000ff" stroke-width="1.1" />
<ellipse cx="581.86" cy="187.45" rx="1.2" ry="0.95" fill="#0000ff"/>
<line x1="583.49" y1="186.26" x2="586.74" y2="186.26" stroke="#ff0000" stroke-width="1.1" />
<line x1="585.12" y1="185.28" x2="585.12" y2="187.23" stroke="#ff0000" stroke-width="1" />
<ellipse cx="585.12" cy="186.26" rx="1.2" ry="0.95" fill="#ff0000"/>
<line x1="583.49" y1="187.96" x2="586.74" y2="187.96" stroke="#0000ff" stroke-width="1.1" />
<ellipse cx="585.12" cy="187.96" rx="1.2" ry="0.95" fill="#0000ff"/>
<line x1="586.74" y1="186.92" x2="590.00" y2="186.92" stroke="#ff0000" stroke-width="1.1" />
<line x1="588.37" y1="185.89" x2="588.37" y2="187.95" stroke="#ff0000" stroke-width="1" />
<ellipse cx="588.37" cy="186.92" rx="1.2" ry="0.95" fill="#ff0000"/>
<line x1="586.74" y1="186.84" x2="590.00" y2="186.84" stroke="#0000ff" stroke-width="1.1" />
<ellipse cx="588.37" cy="186.84" rx="1.2" ry="0.95" fill="#0000ff"/>
<line x1="590.00" y1="186.50" x2="593.26" y2="186.50" stroke="#ff0000" stroke-width="1.1" />
<ellipse cx="591.63" cy="186.50" rx="1.2" ry="0.95" fill="#ff0000"/>
<line x1="590.00" y1="185.83" x2="593.26" y2="185.83" stroke="#0000ff" stroke-width="1.1" />
<line x1="591.63" y1="184.73" x2="591.63" y2="186.92" stroke="#0000ff" stroke-width="1" />
<ellipse cx="591.63" cy="185.83" rx="1.2" ry="0.95" fill="#0000ff"/>
<line x1="593.26" y1="187.13" x2="596.51" y2="187.13" stroke="#ff0000" stroke-width="1.1" />
<line x1="594.88" y1="186.10" x2="594.88" y2="188.16" stroke="#ff0000" stroke-width="1" />
<ellipse cx="594.88" cy="187.13" rx="1.2" ry="0.95" fill="#ff0000"/>
<line x1="593.26" y1="186.77" x2="596.51" y2="186.77" stroke="#0000ff" stroke-width="1.1" />
<ellipse cx="594.88" cy="186.77" rx="1.2" ry="0.95" fill="#0000ff"/>
<line x1="596.51" y1="186.99" x2="599.77" y2="186.99" stroke="#ff0000" stroke-width="1.1" />
<line x1="598.14" y1="186.03" x2="598.14" y2="187.94" stroke="#ff0000" stroke-width="1" />
<ellipse cx="598.14" cy="186.99" rx="1.2" ry="0.95" fill="#ff0000"/>
<line x1="596.51" y1="186.20" x2="599.77" y2="186.20" stroke="#0000ff" stroke-width="1.1" />
<line x1="598.14" y1="185.30" x2="598.14" y2="187.11" stroke="#0000ff" stroke-width="1" />
<ellipse cx="598.14" cy="186.20" rx="1.2" ry="0.95" fill="#0000ff"/>
<line x1="599.77" y1="186.08" x2="603.02" y2="186.08" stroke="#ff0000" stroke-width="1.1" />
<line x1="601.39" y1="184.75" x2="601.39" y2="187.42" stroke="#ff0000" stroke-width="1" />
<ellipse cx="601.39" cy="186.08" rx="1.2" ry="0.95" fill="#ff0000"/>
<line x1="599.77" y1="186.05" x2="603.02" y2="186.05" stroke="#0000ff" stroke-width="1.1" />
<line x1="601.39" y1="184.70" x2="601.39" y2="187.40" stroke="#0000ff" stroke-width="1" />
<ellipse cx="601.39" cy="186.05" rx="1.2" ry="0.95" fill="#0000ff"/>
<line x1="603.02" y1="187.41" x2="606.28" y2="187.41" stroke="#ff0000" stroke-width="1.1" />
<line x1="604.65" y1="185.92" x2="604.65" y2="188.90" stroke="#ff0000" stroke-width="1" />
<ellipse cx="604.65" cy="187.41" rx="1.2" ry="0.95" fill="#ff0000"/>
<line x1="603.02" y1="184.69" x2="606.28" y2="184.69" stroke="#0000ff" stroke-width="1.1" />
<line x1="604.65" y1="183.52" x2="604.65" y2="185.87" stroke="#0000ff" stroke-width="1" />
<ellipse cx="604.65" cy="184.69" rx="1.2" ry="0.95" fill="#0000ff"/>
<line x1="606.28" y1="186.10" x2="609.53" y2="186.10" stroke="#ff0000" stroke-width="1.1" />
<line x1="607.91" y1="184.96" x2="607.91" y2="187.25" stroke="#ff0000" stroke-width="1" />
<ellipse cx="607.91" cy="186.10" rx="1.2" ry="0.95" fill="#ff0000"/>
<line x1="606.28" y1="186.73" x2="609.53" y2="186.73" stroke="#0000ff" stroke-width="1.1" />
<line x1="607.91" y1="185.26" x2="607.91" y2="188.19" stroke="#0000ff" stroke-width="1" />
<ellipse cx="607.91" cy="186.73" rx="1.2" ry="0.95" fill="#0000ff"/>
<line x1="609.53" y1="186.49" x2="612.79" y2="186.49" stroke="#ff0000" stroke-width="1.1" />
<line x1="611.16" y1="185.05" x2="611.16" y2="187.93" stroke="#ff0000" stroke-width="1" />
<ellipse cx="611.16" cy="186.49" rx="1.2" ry="0.95" fill="#ff0000"/>
<line x1="609.53" y1="186.07" x2="612.79" y2="186.07" stroke="#0000ff" stroke-width="1.1" />
<line x1="611.16" y1="184.57" x2="611.16" y2="187.56" stroke="#0000ff" stroke-width="1" />
<ellipse cx="611.16" cy="186.07" rx="1.2" ry="0.95" fill="#0000ff"/>
<line x1="612.79" y1="186.23" x2="616.04" y2="186.23" stroke="#ff0000" stroke-width="1.1" />
<line x1="614.42" y1="184.39" x2="614.42" y2="188.07" stroke="#ff0000" stroke-width="1" />
<ellipse cx="614.42" cy="186.23" rx="1.2" ry="0.95" fill="#ff0000"/>
<line x1="612.79" y1="185.53" x2="616.04" y2="185.53" stroke="#0000ff" stroke-width="1.1" />
<line x1="614.42" y1="183.57" x2="614.42" y2="187.49" stroke="#0000ff" stroke-width="1" />
<ellipse cx="614.42" cy="185.53" rx="1.2" ry="0.95" fill="#0000ff"/>
<line x1="616.04" y1="185.24" x2="619.30" y2="185.24" stroke="#ff0000" stroke-width="1.1" />
<line x1="617.67" y1="182.99" x2="617.67" y2="187.49" stroke="#ff0000" stroke-width="1" />
<ellipse cx="617.67" cy="185.24" rx="1.2" ry="0.95" fill="#ff0000"/>
<line x1="616.04" y1="187.62" x2="619.30" y2="187.62" stroke="#0000ff" stroke-width="1.1" />
<line x1="617.67" y1="186.11" x2="617.67" y2="189.13" stroke="#0000ff" stroke-width="1" />
<ellipse cx="617.67" cy="187.62" rx="1.2" ry="0.95" fill="#0000ff"/>
<line x1="619.30" y1="187.50" x2="622.56" y2="187.50" stroke="#ff0000" stroke-width="1.1" />
<line x1="620.93" y1="185.49" x2="620.93" y2="189.51" stroke="#ff0000" stroke-width="1" />
<ellipse cx="620.93" cy="187.50" rx="1.2" ry="0.95" fill="#ff0000"/>
<line x1="619.30" y1="185.40" x2="622.56" y2="185.40" stroke="#0000ff" stroke-width="1.1" />
<line x1="620.93" y1="183.39" x2="620.93" y2="187.41" stroke="#0000ff" stroke-width="1" />
<ellipse cx="620.93" cy="185.40" rx="1.2" ry="0.95" fill="#0000ff"/>
<line x1="622.56" y1="186.00" x2="625.81" y2="186.00" stroke="#ff0000" stroke-width="1.1" />
<line x1="624.18" y1="183.92" x2="624.18" y2="188.08" stroke="#ff0000" stroke-width="1" />
<ellipse cx="624.18" cy="186.00" rx="1.2" ry="0.95" fill="#ff0000"/>
<line x1="622.56" y1="187.00" x2="625.81" y2="187.00" stroke="#0000ff" stroke-width="1.1" />
<line x1="624.18" y1="184.92" x2="624.18" y2="189.08" stroke="#0000ff" stroke-width="1" />
<ellipse cx="624.18" cy="187.00" rx="1.2" ry="0.95" fill="#0000ff"/>
<line x1="625.81" y1="188.50" x2="629.07" y2="188.50" stroke="#ff0000" stroke-width="1.1" />
<line x1="627.44" y1="186.32" x2="627.44" y2="190.68" stroke="#ff0000" stroke-width="1" />
<ellipse cx="627.44" cy="188.50" rx="1.2" ry="0.95" fill="#ff0000"/>
<line x1="625.81" y1="188.00" x2="629.07" y2="188.00" stroke="#0000ff" stroke-width="1.1" />
<line x1="627.44" y1="185.82" x2="627.44" y2="190.18" stroke="#0000ff" stroke-width="1" />
<ellipse cx="627.44" cy="188.00" rx="1.2" ry="0.95" fill="#0000ff"/>
<line x1="629.07" y1="184.50" x2="632.32" y2="184.50" stroke="#ff0000" stroke-width="1.1" />
<line x1="630.69" y1="182.18" x2="630.69" y2="186.82" stroke="#ff0000" stroke-width="1" />
<ellipse cx="630.69" cy="184.50" rx="1.2" ry="0.95" fill="#ff0000"/>
<line x1="629.07" y1="186.00" x2="632.32" y2="186.00" stroke="#0000ff" stroke-width="1.1" />
<line x1="630.69" y1="183.68" x2="630.69" y2="188.32" stroke="#0000ff" stroke-width="1" />
<ellipse cx="630.69" cy="186.00" rx="1.2" ry="0.95" fill="#0000ff"/>
<line x1="632.32" y1="186.50" x2="635.58" y2="186.50" stroke="#ff0000" stroke-width="1.1" />
<line x1="633.95" y1="184.03" x2="633.95" y2="188.97" stroke="#ff0000" stroke-width="1" />
<ellipse cx="633.95" cy="186.50" rx="1.2" ry="0.95" fill="#ff0000"/>
<line x1="632.32" y1="187.00" x2="635.58" y2="187.00" stroke="#0000ff" stroke-width="1.1" />
<line x1="633.95" y1="184.53" x2="633.95" y2="189.47" stroke="#0000ff" stroke-width="1" />
<ellipse cx="633.95" cy="187.00" rx="1.2" ry="0.95" fill="#0000ff"/>
<line x1="635.58" y1="187.00" x2="638.83" y2="187.00" stroke="#ff0000" stroke-width="1.1" />
<line x1="637.21" y1="184.35" x2="637.21" y2="189.65" stroke="#ff0000" stroke-width="1" />
<ellipse cx="637.21" cy="187.00" rx="1.2" ry="0.95" fill="#ff0000"/>
<line x1="635.58" y1="185.50" x2="638.83" y2="185.50" stroke="#0000ff" stroke-width="1.1" />
<line x1="637.21" y1="182.85" x2="637.21" y2="188.15" stroke="#0000ff" stroke-width="1" />
<ellipse cx="637.21" cy="185.50" rx="1.2" ry="0.95" fill="#0000ff"/>
<line x1="638.83" y1="184.50" x2="642.09" y2="184.50" stroke="#ff0000" stroke-width="1.1" />
<line x1="640.46" y1="181.66" x2="640.46" y2="187.34" stroke="#ff0000" stroke-width="1" />
<ellipse cx="640.46" cy="184.50" rx="1.2" ry="0.95" fill="#ff0000"/>
<line x1="638.83" y1="186.50" x2="642.09" y2="186.50" stroke="#0000ff" stroke-width="1.1" />
<line x1="640.46" y1="183.66" x2="640.46" y2="189.34" stroke="#0000ff" stroke-width="1" />
<ellipse cx="640.46" cy="186.50" rx="1.2" ry="0.95" fill="#0000ff"/>
<line x1="642.09" y1="186.50" x2="645.34" y2="186.50" stroke="#ff0000" stroke-width="1.1" />
<line x1="643.72" y1="183.45" x2="643.72" y2="189.55" stroke="#ff0000" stroke-width="1" />
<ellipse cx="643.72" cy="186.50" rx="1.2" ry="0.95" fill="#ff0000"/>
<line x1="642.09" y1="185.00" x2="645.34" y2="185.00" stroke="#0000ff" stroke-width="1.1" />
<line x1="643.72" y1="181.95" x2="643.72" y2="188.05" stroke="#0000ff" stroke-width="1" />
<ellipse cx="643.72" cy="185.00" rx="1.2" ry="0.95" fill="#0000ff"/>
<line x1="645.34" y1="185.50" x2="648.60" y2="185.50" stroke="#ff0000" stroke-width="1.1" />
<line x1="646.97" y1="182.23" x2="646.97" y2="188.77" stroke="#ff0000" stroke-width="1" />
<ellipse cx="646.97" cy="185.50" rx="1.2" ry="0.95" fill="#ff0000"/>
<line x1="645.34" y1="184.00" x2="648.60" y2="184.00" stroke="#0000ff" stroke-width="1.1" />
<line x1="646.97" y1="180.73" x2="646.97" y2="187.27" stroke="#0000ff" stroke-width="1" />
<ellipse cx="646.97" cy="184.00" rx="1.2" ry="0.95" fill="#0000ff"/>
<line x1="648.60" y1="184.00" x2="651.86" y2="184.00" stroke="#ff0000" stroke-width="1.1" />
<line x1="650.23" y1="180.50" x2="650.23" y2="187.50" stroke="#ff0000" stroke-width="1" />
<ellipse cx="650.23" cy="184.00" rx="1.2" ry="0.95" fill="#ff0000"/>
<line x1="648.60" y1="186.00" x2="651.86" y2="186.00" stroke="#0000ff" stroke-width="1.1" />
<line x1="650.23" y1="182.50" x2="650.23" y2="189.50" stroke="#0000ff" stroke-width="1" />
<ellipse cx="650.23" cy="186.00" rx="1.2" ry="0.95" fill="#0000ff"/>
<line x1="651.86" y1="187.00" x2="655.11" y2="187.00" stroke="#ff0000" stroke-width="1.1" />
<line x1="653.48" y1="183.25" x2="653.48" y2="190.75" stroke="#ff0000" stroke-width="1" />
<ellipse cx="653.48" cy="187.00" rx="1.2" ry="0.95" fill="#ff0000"/>
<line x1="651.86" y1="181.50" x2="655.11" y2="181.50" stroke="#0000ff" stroke-width="1.1" />
<line x1="653.48" y1="177.75" x2="653.48" y2="185.25" stroke="#0000ff" stroke-width="1" />
<ellipse cx="653.48" cy="181.50" rx="1.2" ry="0.95" fill="#0000ff"/>
<line x1="655.11" y1="186.50" x2="658.37" y2="186.50" stroke="#ff0000" stroke-width="1.1" />
<line x1="656.74" y1="182.48" x2="656.74" y2="190.52" stroke="#ff0000" stroke-width="1" />
<ellipse cx="656.74" cy="186.50" rx="1.2" ry="0.95" fill="#ff0000"/>
<line x1="655.11" y1="185.00" x2="658.37" y2="185.00" stroke="#0000ff" stroke-width="1.1" />
<line x1="656.74" y1="180.98" x2="656.74" y2="189.02" stroke="#0000ff" stroke-width="1" />
<ellipse cx="656.74" cy="185.00" rx="1.2" ry="0.95" fill="#0000ff"/>
<line x1="658.37" y1="187.50" x2="661.62" y2="187.50" stroke="#ff0000" stroke-width="1.1" />
<line x1="659.99" y1="183.21" x2="659.99" y2="191.79" stroke="#ff0000" stroke-width="1" />
<ellipse cx="659.99" cy="187.50" rx="1.2" ry="0.95" fill="#ff0000"/>
<line x1="658.37" y1="182.00" x2="661.62" y2="182.00" stroke="#0000ff" stroke-width="1.1" />
<line x1="659.99" y1="177.71" x2="659.99" y2="186.29" stroke="#0000ff" stroke-width="1" />
<ellipse cx="659.99" cy="182.00" rx="1.2" ry="0.95" fill="#0000ff"/>
<line x1="661.62" y1="185.00" x2="664.88" y2="185.00" stroke="#ff0000" stroke-width="1.1" />
<line x1="663.25" y1="180.42" x2="663.25" y2="189.58" stroke="#ff0000" stroke-width="1" />
<ellipse cx="663.25" cy="185.00" rx="1.2" ry="0.95" fill="#ff0000"/>
<line x1="661.62" y1="191.00" x2="664.88" y2="191.00" stroke="#0000ff" stroke-width="1.1" />
<line x1="663.25" y1="186.42" x2="663.25" y2="195.58" stroke="#0000ff" stroke-width="1" />
<ellipse cx="663.25" cy="191.00" rx="1.2" ry="0.95" fill="#0000ff"/>
<line x1="664.88" y1="188.00" x2="668.13" y2="188.00" stroke="#ff0000" stroke-width="1.1" />
<line x1="666.51" y1="183.13" x2="666.51" y2="192.87" stroke="#ff0000" stroke-width="1" />
<ellipse cx="666.51" cy="188.00" rx="1.2" ry="0.95" fill="#ff0000"/>
<line x1="664.88" y1="189.00" x2="668.13" y2="189.00" stroke="#0000ff" stroke-width="1.1" />
<line x1="666.51" y1="184.13" x2="666.51" y2="193.87" stroke="#0000ff" stroke-width="1" />
<ellipse cx="666.51" cy="189.00" rx="1.2" ry="0.95" fill="#0000ff"/>
<line x1="668.13" y1="178.00" x2="671.39" y2="178.00" stroke="#ff0000" stroke-width="1.1" />
<line x1="669.76" y1="172.82" x2="669.76" y2="183.18" stroke="#ff0000" stroke-width="1" />
<ellipse cx="669.76" cy="178.00" rx="1.2" ry="0.95" fill="#ff0000"/>
<line x1="668.13" y1="183.00" x2="671.39" y2="183.00" stroke="#0000ff" stroke-width="1.1" />
<line x1="669.76" y1="177.82" x2="669.76" y2="188.18" stroke="#0000ff" stroke-width="1" />
<ellipse cx="669.76" cy="183.00" rx="1.2" ry="0.95" fill="#0000ff"/>
<line x1="671.39" y1="168.00" x2="674.64" y2="168.00" stroke="#ff0000" stroke-width="1.1" />
<line x1="673.02" y1="161.50" x2="673.02" y2="174.50" stroke="#ff0000" stroke-width="1" />
<ellipse cx="673.02" cy="168.00" rx="1.2" ry="0.95" fill="#ff0000"/>
<line x1="671.39" y1="175.50" x2="674.64" y2="175.50" stroke="#0000ff" stroke-width="1.1" />
<line x1="673.02" y1="170.00" x2="673.02" y2="181.00" stroke="#0000ff" stroke-width="1" />
<ellipse cx="673.02" cy="175.50" rx="1.2" ry="0.95" fill="#0000ff"/>
<line x1="674.64" y1="182.00" x2="678.50" y2="182.00" stroke="#ff0000" stroke-width="1.1" />
<line x1="676.57" y1="176.15" x2="676.57" y2="187.85" stroke="#ff0000" stroke-width="1" />
<ellipse cx="676.57" cy="182.00" rx="1.2" ry="0.95" fill="#ff0000"/>
<line x1="674.64" y1="180.00" x2="678.50" y2="180.00" stroke="#0000ff" stroke-width="1.1" />
<line x1="676.57" y1="174.15" x2="676.57" y2="185.85" stroke="#0000ff" stroke-width="1" />
<ellipse cx="676.57" cy="180.00" rx="1.2" ry="0.95" fill="#0000ff"/>
</g>
<text x="525.00" y="15.50" font-size="9.0" text-anchor="start" >N<tspan font-size="5.8" dy="2.5" dx="-0.2" class="ns">c</tspan><tspan font-size="4.3" dy="1.8" class="ns">D</tspan><tspan dy="-4.3" dx="0.3">=3, N</tspan><tspan font-size="5.8" dy="3.6" dx="0.2" class="ns">f</tspan><tspan font-size="4.3" dy="2.9" dx="-0.1" class="ns">D</tspan><tspan dy="-6.5" dx="0.3">=3, &#923;</tspan><tspan font-size="5.2" dy="3.1" dx="0.2" class="ns">D</tspan><tspan dy="-3.1">=10 GeV, m</tspan><tspan font-size="5.0" dy="4.2" class="ns">&#960;</tspan><tspan dy="-4.2">/&#923;</tspan><tspan font-size="5.2" dy="3.1" dx="0.1" class="ns">D</tspan><tspan dy="-3.1">=0.6</tspan></text>
<line x1="527.70" y1="37.10" x2="561.20" y2="37.10" stroke="#000" stroke-width="1.2" stroke-dasharray="2.3,1.6"/>
<text x="567.50" y="40.40" font-size="8.95" text-anchor="start" >Pythia 8245, SFoff</text>
<line x1="527.70" y1="59.40" x2="561.20" y2="59.40" stroke="#ff0000" stroke-width="1.1" />
<text x="567.50" y="62.70" font-size="8.95" text-anchor="start" >Pythia 8307, SFon</text>
<line x1="527.70" y1="81.70" x2="561.20" y2="81.70" stroke="#0000ff" stroke-width="1.1" />
<text x="567.50" y="85.00" font-size="8.95" text-anchor="start" >Pythia 8307, SFoff</text>
<text x="176.8" y="248.8" font-size="13.6" font-weight="bold" text-anchor="middle" class="serif">(a)</text>
<text x="531.9" y="248.8" font-size="13.6" font-weight="bold" text-anchor="middle" class="serif">(b)</text></svg>
</body></html>
